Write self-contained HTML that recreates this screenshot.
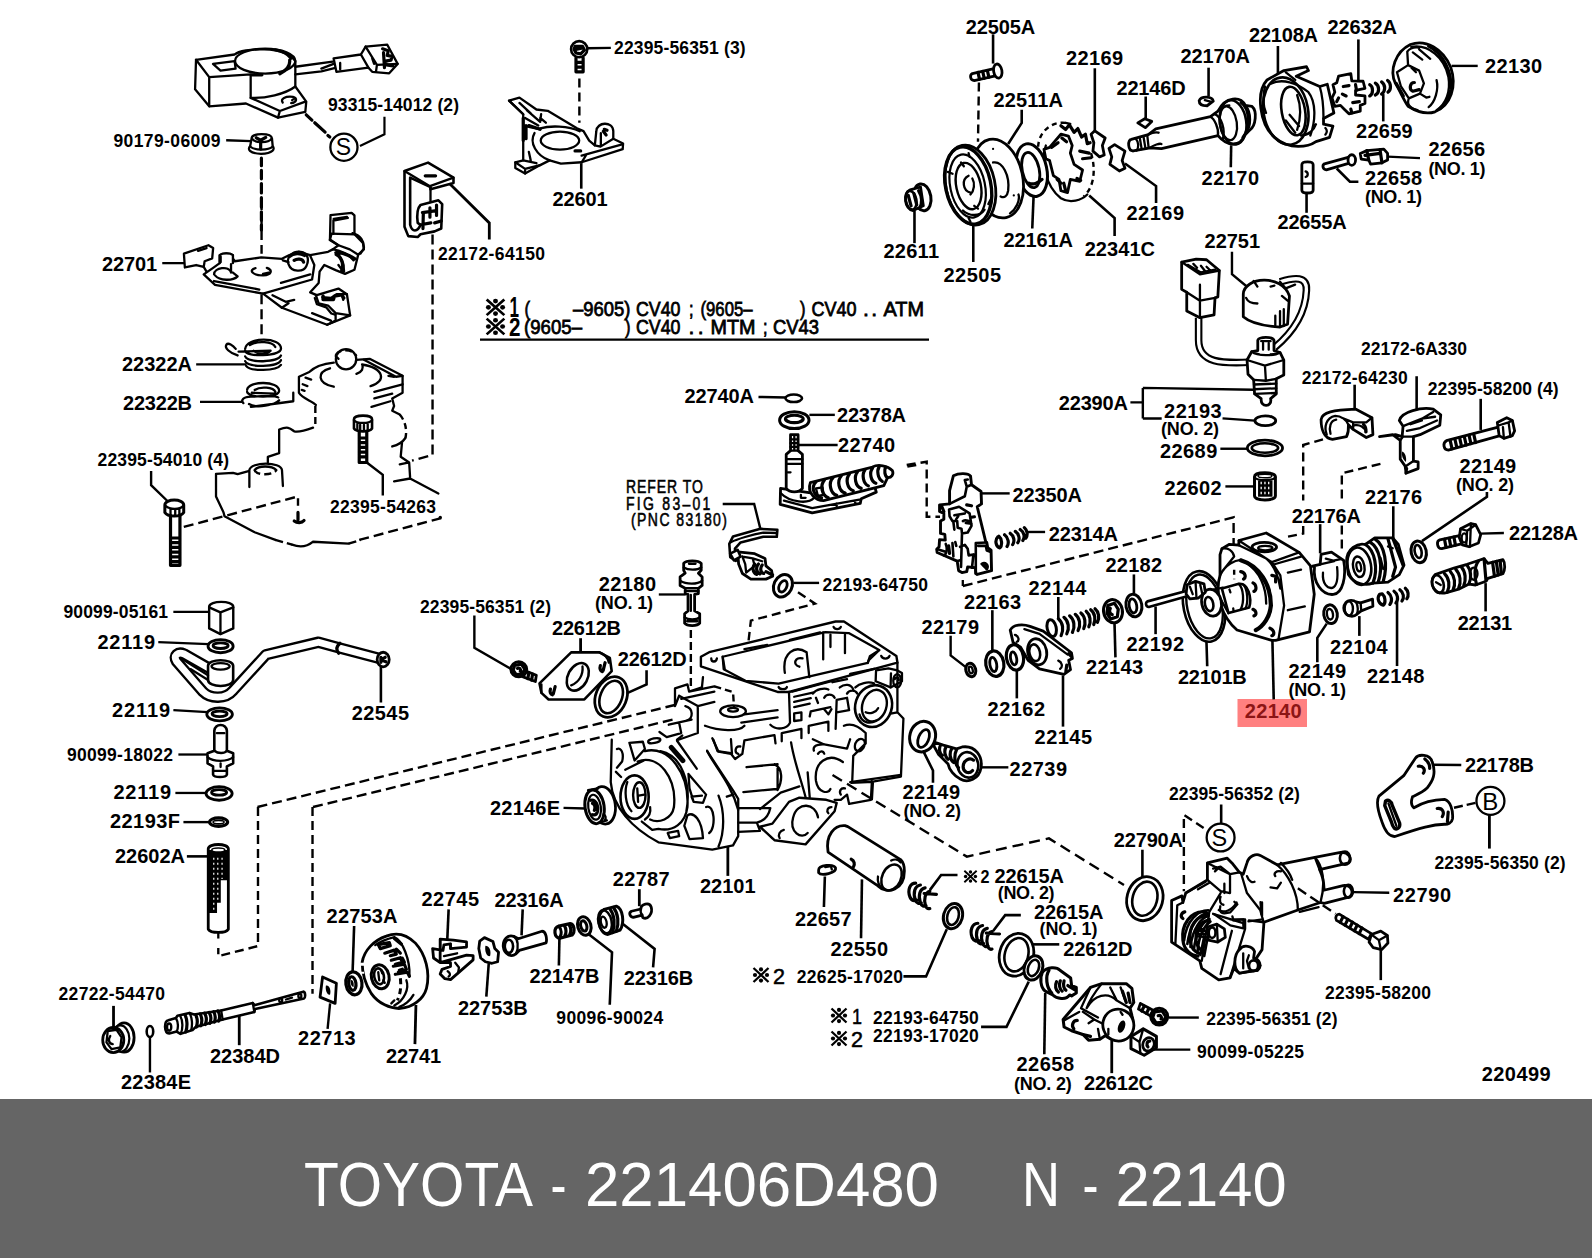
<!DOCTYPE html>
<html><head><meta charset="utf-8"><title>TOYOTA - 221406D480 N - 22140</title>
<style>
html,body{margin:0;padding:0;background:#fff;}
body{width:1592px;height:1258px;overflow:hidden;position:relative;font-family:"Liberation Sans",sans-serif;}
#dia{position:absolute;left:0;top:0;width:1592px;height:1098px;background:#fff;}
#foot{position:absolute;left:0;top:1099px;width:1592px;height:159px;background:#656565;color:#fff;}
#foot span{position:absolute;top:50px;font-size:63px;line-height:70px;white-space:pre;letter-spacing:-0.6px;}
svg text{font-family:"Liberation Sans",sans-serif;font-weight:bold;fill:#000;}
svg .t{font-family:"Liberation Sans",sans-serif;font-weight:normal;}
svg .p{fill:none;stroke:#000;stroke-width:2.3;stroke-linecap:round;stroke-linejoin:round;}
svg .w{fill:#fff;stroke:#000;stroke-width:2.3;stroke-linecap:round;stroke-linejoin:round;}
svg .k{fill:#000;stroke:none;}
svg .d{fill:none;stroke:#000;stroke-width:2.4;stroke-dasharray:9 5;}
svg .l{fill:none;stroke:#000;stroke-width:2.3;stroke-linecap:butt;stroke-linejoin:miter;}
svg .h{fill:none;stroke:#000;stroke-width:1.1;stroke-linecap:round;}
svg .b{fill:none;stroke:#000;stroke-width:3.2;stroke-linecap:round;stroke-linejoin:round;}
</style></head><body>
<div id="dia">
<svg width="1592" height="1098" viewBox="0 0 1592 1098">
<defs>
<g id="kome"><path d="M-7.5,-7L7.5,7M7.5,-7L-7.5,7" stroke="#000" stroke-width="2.3" fill="none"/><circle cx="0" cy="-5.6" r="2.1"/><circle cx="0" cy="5.6" r="2.1"/><circle cx="-6" cy="0" r="2.1"/><circle cx="6" cy="0" r="2.1"/></g>
</defs>
<!-- a01_sensor.svg -->
<g>
<!-- top sensor body -->
<path class="w" d="M196.02 59.77L234.65 54.5C242.19 47.9 285.53 45.08 295.33 61.09L295.33 86.53L306.26 101.61L305.31 111.97L277.99 117.63L245.95 103.49L209.21 106.32L195.08 89.36Z"/>
<path class="p" d="M196.02 59.77L209.21 77.11L250.67 74.28M209.21 77.11L209.21 106.32M250.67 74.28L250.67 97.84L279.87 111.03L305.31 101.61M279.87 111.03L277.99 117.63"/>
<ellipse class="p" cx="265.18" cy="61.09" rx="30.15" ry="12.44"/>
<path class="p" d="M250.67 97.84C264.8 98.78 285.53 94.07 295.33 86.53"/>
<path class="b" d="M279.87 73.72C286.47 70.52 290.24 65.8 289.67 60.15M251.61 74.85L261.97 74.85M275.16 49.79C281.76 51.11 288.35 54.5 291.18 58.27"/>
<path class="p" d="M212.98 63.92L234.65 61.09L235.59 68.63L220.52 70.52Z"/>
<path class="p" d="M282.7 102.55C279.87 98.78 285.53 95.95 293.07 96.9C297.78 97.84 296.83 102.55 291.18 103.12M292.12 100.1L295.33 97.84"/>
<!-- wire + connector -->
<path class="p" d="M295.33 66.75L332.64 61.66M295.33 74.28L321.33 71.46L336.41 67.69M321.33 68.63L333.58 63.92"/>
<path class="w" d="M333.58 58.27L360.9 54.5L365.62 46.58L387.29 44.7L397.65 63.92L389.17 73.34L372.21 71.83L368.44 67.69L336.41 71.83Z"/>
<path class="p" d="M360.9 54.5L368.44 67.69M365.62 46.58L376.92 64.86L375.98 71.83M340.18 62.98L340.18 69.57M376.92 64.86L397.65 63.92M372.21 58.27L374.1 63.92"/>
<path class="b" d="M382.58 48.84L388.23 50.73L387.29 55.44L392 56.38L391.06 60.15L385.4 61.09L386.34 64.86L392.94 65.8M383.52 52.61L384.46 67.69"/>
<!-- dashed to S -->
<path class="b" d="M306.26 114.8L311.91 120.08M314.74 122.71L325.1 132.14M327.93 135.53L329.81 137.04"/>
<circle class="w" cx="343.94" cy="147.21" r="13.57"/>
<path class="l" d="M359.96 145.89L384.46 134.21L384.46 116.68" style="stroke-width:2.2"/>
<!-- nut 90179 -->
<path class="l" d="M226.17 140.24L251.23 141.18"/>
<path class="w" d="M251.61 138.35C251.61 132.7 271.39 132.7 271.96 138.35L272.71 146.46C275.16 148.72 273.28 153.43 261.03 153.81C248.78 153.43 247.46 148.72 250.1 146.46Z"/>
<path class="p" d="M252.55 139.3C255.38 143.07 268.57 143.07 271.39 138.92M250.1 146.46C254.43 150.6 268.57 150.6 272.71 146.46"/>
<path class="b" d="M260.65 143.07L260.65 149.1M256.32 137.79L260.65 140.24L265.74 137.41"/>
<!-- dashed vertical -->
<path class="b" d="M261.41 158.14L261.41 165.68M261.41 170.39L261.41 178.87M261.41 183.58L261.41 193M261.41 197.71L261.41 207.14M261.41 211.85L261.41 220.33M261.41 225.04L261.41 229.94"/>
</g>
<text x="335.8" y="155" font-size="23" class="t" style="font-weight:normal">S</text>

<!-- a02_plate.svg -->
<g>
<!-- dashed verticals -->
<path class="d" d="M261.56 200L261.56 253.71" style="stroke-dasharray:10 5"/>
<path class="d" d="M261.56 294.22L261.56 336.62" style="stroke-dasharray:10 5"/>
<!-- 22701 leader -->
<path class="l" d="M162.25 263.13L184.3 263.13"/>
<!-- left tab -->
<path class="w" d="M183.92 253.71L208.42 245.23L213.13 248.05L212.19 258.42L204.65 261.24L203.71 266.9L196.17 265.01L184.86 267.46Z"/>
<path class="p" d="M198.05 250.88L206.53 248.05M203.71 266.9L206.53 271.61L212.19 272.55"/>
<!-- main plate -->
<path class="w" d="M203.71 274.43L215.01 284.8L263.07 293.66L281.91 307.79L327.14 324.75L350.13 315.33L346.92 294.22L338.44 288.57L316.77 295.16L310.18 292.34L318.66 282.91L319.6 271.61L324.31 265.01L335.62 270.1L345.04 273.87L354.46 269.72L358.23 254.65L363.88 249.37L362.94 242.96L354.46 234.3L354.46 215.45L351.63 212.81L330.53 215.08L329.96 239.57L338.44 245.23L332.79 249.37L328.08 251.82L310.18 255.03L298.87 251.82L289.45 255.03L281.91 258.79L261.18 257.47L234.8 261.24L232.91 258.42L232.91 255.03C230.09 252.76 222.55 252.76 219.72 255.03L219.72 263.13L213.13 267.84Z"/>
<path class="p" d="M214.07 281.03L259.3 289.51M263.07 293.66L312.06 279.52L314.32 265.01L310.18 255.59M280.97 282.91L310.18 274.43M272.49 295.16L285.68 301.76L294.16 299.87M281.91 307.79L288.5 303.27M312.06 313.07L330.9 320.6M327.14 324.75L335.62 320.6L335.62 313.07M335.62 313.07L328.08 305.53L318.66 303.27L315.83 295.16M335.62 313.07L350.13 315.33M322.42 297.05L330.9 297.99L336.56 294.22L346.92 294.22M342.21 295.16L343.15 299.87"/>
<path class="p" d="M330.53 233.54L354.46 234.3M333.73 218.84L346.92 216.96M332.79 249.37C340.33 249.94 349.75 254.65 353.52 260.3M335.62 254.65C340.33 256.53 344.1 262.19 344.1 271.61M338.44 245.23L349.75 249.37L358.23 254.65M338.44 265.01L342.21 270.1"/>
<!-- posts -->
<path class="w" d="M219.72 263.13L219.72 255.03C222.55 252.76 230.09 252.76 232.91 255.03L232.91 263.13"/>
<path class="p" d="M214.07 274.43C214.07 267.84 229.15 265.01 231.03 272.55L231.03 264.07M215.01 275.38C219.72 281.03 232.91 281.03 237.63 276.32L232.91 272.55M220.67 256.53L220.67 262.19"/>
<path class="w" d="M288.5 264.07C285.68 256.53 293.22 250.88 300.75 251.82C308.29 252.76 309.23 260.3 306.41 265.95C303.58 272.55 291.33 272.55 288.5 264.07Z"/>
<path class="b" d="M289.45 256.53C293.22 252.76 300.75 252.76 304.52 255.59M294.16 260.3C296.98 258.42 302.64 258.42 303.58 262.19"/>
<path class="p" d="M282.85 260.3L288.5 262.19"/>
<!-- center hole C -->
<path class="p" d="M255.53 268.22C247.99 270.1 252.7 275.38 263.07 275.38C272.49 275 272.49 269.72 266.83 267.84M263.07 273.87L268.72 272.55"/>
<!-- spring 22322A -->
<path class="l" d="M196.17 364.32L246.48 364.32"/>
<path class="p" d="M245.16 348.87C246.11 336.62 281.91 336.62 280.97 348.87C280.02 356.41 246.11 357.35 245.16 350.75M245.16 356.41C247.99 363 278.14 363 280.97 355.46M245.16 361.12C247.99 367.71 278.14 367.71 280.97 360.18M246.11 365.83C249.87 371.48 276.26 371.48 280.97 364.89M249.87 345.1C257.41 340.39 272.49 341.33 275.31 346.98M238.57 351.7L270.6 350.75M253.64 350.75C257.41 354.52 266.83 354.52 270.6 350.75"/>
<path class="p" d="M237.63 355.46C229.15 352.64 224.43 347.93 226.32 344.72C228.2 342.27 232.91 345.1 235.74 348.87"/>
</g>

<!-- a03_22601.svg -->
<g>
<!-- screw 22395-56351 (3) -->
<path class="l" d="M587.29 48.27L610.84 47.89"/>
<circle class="w" cx="579.18" cy="49.21" r="8.1" style="stroke-width:2.6"/>
<path class="b" d="M575.04 46.38L582.58 46.38L584.46 50.15L580.69 53.92L575.98 52.98L574.1 49.21ZM576.92 49.21L581.63 48.27"/>
<path class="b" d="M575.98 57.69L575.98 71.82L583.14 71.82L583.14 57.69M575.98 62.4L583.14 62.4M575.98 67.11L583.14 67.11"/>
<path class="d" d="M579.37 78.42L579.37 122.7" style="stroke-dasharray:9 5"/>
<!-- 22601 plate -->
<path class="w" d="M509.08 100.65L519.45 97.64L536.41 109.51L547.71 110.83L576.92 128.35L583.52 131.18L589.17 140.6L594.82 145.31L596.33 131.18C596.71 121.76 612.73 120.82 613.29 131.18L613.29 138.72L623.09 143.43L622.71 149.08L581.63 162.27L560.9 163.59L549.6 160.39L540.18 165.1L525.1 173.58L515.3 167.93L515.3 162.27L523.22 160.39L523.22 114.22Z"/>
<path class="p" d="M509.08 100.65L523.22 114.22M519.45 102.91L530.75 113.28M526.98 110.45L540.18 121.76M523.22 125.53L540.18 129.3M525.1 117.99L538.29 125.53M594.82 145.31L600.48 146.63L613.29 138.72M600.85 133.07L600.85 146.26M581.63 155.68L622.15 144.37M581.63 162.27L586.34 154.74M523.22 160.39L536.41 163.22M515.3 162.27L525.1 168.87L540.18 165.1M525.1 168.87L525.1 173.58M528.87 151.91L530.75 160.39M540.18 121.76L541.12 114.22M540.18 117.99L545.83 122.7"/>
<path class="b" d="M523.22 117.99L523.22 140.6M526.04 125.53L526.04 138.72M528.87 125.53L540.18 129.3M603.3 131.18L606.13 134.95M604.25 129.3L607.07 130.24M575.04 150.97L580.69 150.97"/>
<ellipse class="p" cx="559.96" cy="140.6" rx="19.22" ry="9.05"/>
<path class="p" d="M534.52 133.07C528.87 142.49 536.41 155.68 549.6 160.39M540.18 128.35C549.6 125.53 568.44 125.53 579.75 131.18"/>
<path class="l" d="M581.26 163.22L581.26 188.66" style="stroke-width:2.6"/>
</g>

<!-- a04_cover.svg -->
<g>
<!-- spring 22322B -->
<path class="l" d="M200 401.81L242.96 401.81"/>
<path class="p" d="M247.11 389.94C248.05 380.52 279.15 380.52 279.15 390.88C278.2 398.42 248.99 398.42 247.11 391.82M254.65 389.94C260.3 386.17 273.49 387.11 275.38 391.82M251.82 392.76L274.43 393.71M243.34 403.13C240.52 400.3 243.34 396.53 250.88 396.53C262.19 396.53 275.38 394.65 278.2 397.47M248.99 404.07C256.53 408.78 275.38 405.01 279.15 400.3M250.88 406.9L293.28 401.24L293.28 392.76"/>
<!-- pump cover -->
<path class="p" d="M333.79 362.61C324.37 363.56 314.95 366.38 309.3 372.04L298.93 376.75L298.93 392.76C301.76 398.42 313.07 401.24 315.89 405.01M313.07 427.63C305.53 430.45 297.99 432.34 294.22 431.39C290.45 428.57 288.57 425.74 279.15 429.51L279.15 453.07L267.84 456.83L267.84 462.49"/>
<path class="d" d="M315.33 405.95L315.33 425.74" style="stroke-dasharray:7 4"/>
<path class="p" d="M356.41 359.79L369.6 358.84L402.58 375.8L402.58 392.76L392.21 398.42L394.1 405.95L392.21 410.67L399.75 414.43M405.4 437.99C401.63 443.64 395.98 445.53 392.21 446.47M402.01 442.7L400.69 456.83L409.17 462.49L410.11 477.56M394.1 481.33L410.11 478.5L438.38 493.58M399.75 464.37L409.17 462.49"/>
<path class="d" d="M399.75 414.43C405.4 421.03 407.29 430.45 405.4 437.99" style="stroke-dasharray:6 4"/>
<circle class="w" cx="346.04" cy="359.22" r="10.18"/>
<path class="d" d="M335.68 355.08C339.45 348.48 352.64 348.48 356.41 356.02" style="stroke-dasharray:7 4"/>
<path class="p" d="M330.02 368.27C316.83 372.04 316.83 383.34 333.79 386.73M362.06 364.5C384.67 368.27 386.56 381.46 370.54 386.17M374.31 391.82L402.58 384.28M374.31 398.42L392.21 393.71M371.48 406.9L390.33 401.24M305.53 377.69L311.18 379.57M302.7 384.28L307.41 386.17M301.76 389.94L304.59 390.88M363.94 359.79L395.98 376.75L402.58 375.8M388.44 375.8L394.1 376.75M356.41 373.92C362.06 372.04 363.94 368.27 362.06 364.5M335.68 356.02L338.5 358.84"/>
<!-- screw -->
<path class="w" d="M353.96 419.15C353.96 414.43 372.05 414.43 372.05 419.15L372.05 428.57C369.6 432.34 356.41 432.34 353.96 428.57Z" style="stroke-width:2.6"/>
<path class="p" d="M353.96 420.09C356.41 423.86 369.6 423.86 372.05 420.09M357.35 423.86L357.35 430.08M360.18 424.8L360.18 430.83M363.94 424.8L363.94 430.83M367.71 423.86L367.71 430.08"/>
<path class="b" d="M359.23 431.39L359.23 462.49L366.77 462.49L366.77 431.39M359.23 437.99L366.77 437.99M359.23 442.7L366.77 442.7M359.23 447.41L366.77 447.41M359.23 452.12L366.77 452.12M359.23 456.83L366.77 456.83"/>
<path class="l" d="M366.77 462.49L382.79 474.74L382.79 495.46" style="stroke-width:2.4"/>
<!-- boss -->
<path class="p" d="M249.37 486.98L249.37 470.02C250.88 461.55 281.03 461.55 281.97 470.02L282.91 486.04M216.02 473.79L232.98 472.85L237.69 474.17L249.37 470.97M216.02 473.79L216.02 496.41L223.56 512.42L224.5 516.19L254.65 532.21L275.38 539.94"/>
<path class="d" d="M254.65 470.02C256.53 475.68 273.49 475.68 276.32 470.02" style="stroke-dasharray:7 4"/>
<path class="p" d="M254.65 470.02C258.42 465.31 271.61 465.31 276.32 470.02"/>
<!-- dashed lines -->
<path class="d" d="M183.79 526.93L297.99 496.41L297.99 505.83" style="stroke-dasharray:10 5"/>
<path class="b" d="M297.99 512.42L297.99 519.96M294.22 520.9C297.05 523.17 301.76 523.17 304.02 520.53"/>
<path class="d" d="M359.23 539.94L441.21 518.08" style="stroke-dasharray:10 5"/>
<circle class="k" cx="440.26" cy="517.51" r="1.7"/>
<path class="d" d="M432.54 234.47L432.54 454.95L412 460.6" style="stroke-dasharray:10 5"/>
</g>

<!-- a05_bracket_notes.svg -->
<g>
<!-- bracket 22172-64150 -->
<path class="w" d="M404.5 171.09L428.05 162.61L453.49 177.69L453.49 182.96L430.5 189.37L430.5 187.11L410.15 177.69L410.15 224.8C412.04 232.34 417.69 232.34 420.52 224.8L417.69 222.91C416.75 215.38 417.69 207.84 420.52 205.01L438.42 200.3L442.19 204.07L441.24 228.57L434.65 231.39L420.52 234.22L417.69 237.05L408.27 236.11L404.5 226.68Z" style="stroke-width:2.6"/>
<path class="p" d="M404.5 171.09L429.94 186.17L453.49 177.69M429.94 186.17L430.5 189.37M430.5 189.37L430.5 202.19"/>
<path class="b" d="M425.23 175.8L435.59 175.8M422.4 212.55L436.53 210.67M423.34 212.55L422.96 228.57M429.94 207.84L429.94 217.26M436.53 205.01L436.53 215.38M420.52 224.8L430.88 222.91M434.65 222.91L441.24 221.03"/>
<path class="l" d="M449.72 183.72L489.3 222.91L489.3 239.5" style="stroke-width:2.8"/>
</g>
<g id="notes">
<use href="#kome" transform="translate(495.5 307.3) scale(1.18 1.12)"/><use href="#kome" transform="translate(495.5 326.5) scale(1.18 1.12)"/>
<text x="509.5" y="317" font-size="29" textLength="9.5" lengthAdjust="spacingAndGlyphs">1</text>
<text x="509" y="336" font-size="26" textLength="11.5" lengthAdjust="spacingAndGlyphs">2</text>
<g class="t" font-size="21" style="font-weight:normal;stroke:#000;stroke-width:0.8">
<text class="t" x="524.5" y="315.5" textLength="5.5" lengthAdjust="spacingAndGlyphs">(</text>
<text class="t" x="573" y="315.5" textLength="57.5" lengthAdjust="spacingAndGlyphs">–9605)</text>
<text class="t" x="636" y="315.5" textLength="44.5" lengthAdjust="spacingAndGlyphs">CV40</text>
<text class="t" x="689" y="315.5" textLength="4.5" lengthAdjust="spacingAndGlyphs">;</text>
<text class="t" x="700.5" y="315.5" textLength="52" lengthAdjust="spacingAndGlyphs">(9605–</text>
<text class="t" x="800" y="315.5" textLength="5.5" lengthAdjust="spacingAndGlyphs">)</text>
<text class="t" x="811.5" y="315.5" textLength="45" lengthAdjust="spacingAndGlyphs">CV40</text>
<text class="t" x="863" y="315.5" textLength="14" lengthAdjust="spacing">. .</text>
<text class="t" x="883.5" y="315.5" textLength="40.5" lengthAdjust="spacingAndGlyphs">ATM</text>
<text class="t" x="524" y="334" textLength="58" lengthAdjust="spacingAndGlyphs">(9605–</text>
<text class="t" x="625" y="334" textLength="5.5" lengthAdjust="spacingAndGlyphs">)</text>
<text class="t" x="636" y="334" textLength="44.5" lengthAdjust="spacingAndGlyphs">CV40</text>
<text class="t" x="688.5" y="334" textLength="15" lengthAdjust="spacing">. .</text>
<text class="t" x="710.5" y="334" textLength="45" lengthAdjust="spacingAndGlyphs">MTM</text>
<text class="t" x="763" y="334" textLength="4.5" lengthAdjust="spacingAndGlyphs">;</text>
<text class="t" x="773" y="334" textLength="46" lengthAdjust="spacingAndGlyphs">CV43</text>
</g>
<path class="l" d="M480,339.7 L929,339.7"/>
</g>

<!-- a06_screw_cap.svg -->
<g>
<path class="l" d="M151.11 471.09L151.11 485.23L167.69 501.24" style="stroke-width:2.4"/>
<path class="w" d="M164.86 505.01C164.86 498.42 183.71 498.42 183.71 505.01L183.71 512.55C180.88 517.26 167.69 517.26 164.86 512.55Z" style="stroke-width:3"/>
<path class="p" d="M165.8 505.95C169.57 509.72 179.94 509.72 183.14 505.95M170.52 508.78L170.52 515M175.23 509.35L175.23 515.75M179.37 508.22L179.37 515"/>
<path class="b" d="M170.52 515.38L170.52 565.31L179.94 565.31L179.94 515.38M170.52 537.99L179.94 537.99M170.52 542.7L179.94 542.7M170.52 547.41L179.94 547.41M170.52 552.12L179.94 552.12M170.52 556.83L179.94 556.83M170.52 561.55L179.94 561.55"/>
<path class="d" d="M275.29 539.87L292.06 544.59" style="stroke-dasharray:8 4"/>
<path class="p" d="M292.06 544.59C299.6 547.41 307.14 546.47 312.79 541.76L348.59 543.64"/>
<path class="d" d="M348.59 543.64L360.84 539.87" style="stroke-dasharray:8 4"/>
<!-- cap -->
<path class="l" d="M173.34 611.86L209.15 611.86"/>
<path class="w" d="M209.15 606.77C209.15 600.18 233.27 600.18 233.27 606.77L233.27 628.44L220.45 634.1L209.15 628.44Z" style="stroke-width:2.4"/>
<path class="p" d="M209.15 607.34L220.45 612.42L233.27 607.34M220.45 612.42L220.45 634.1"/>
</g>

<!-- a07_pipe.svg -->
<g>
<!-- washer 1 -->
<path class="l" d="M158.29 642.21L208.54 644.22"/>
<ellipse class="w" cx="220.6" cy="646.23" rx="12.56" ry="6.53" style="stroke-width:2.8"/>
<ellipse class="p" cx="220.6" cy="645.73" rx="7.54" ry="2.76" style="stroke-width:2.8"/>
<!-- pipe -->
<path d="M383.42 659.55L338.69 647.74L318.59 642.21L265.83 654.77L233.17 690.45C225.63 699.25 210.55 699.25 203.01 691.71L176.63 661.56C172.86 655.28 177.89 651.51 184.17 654.02L210.55 669.1" fill="none" stroke="#000" stroke-width="11.5" stroke-linejoin="round" stroke-linecap="round"/>
<path d="M383.42 659.55L338.69 647.74L318.59 642.21L265.83 654.77L233.17 690.45C225.63 699.25 210.55 699.25 203.01 691.71L176.63 661.56C172.86 655.28 177.89 651.51 184.17 654.02L210.55 669.1" fill="none" stroke="#fff" stroke-width="6.8" stroke-linejoin="round" stroke-linecap="round"/>
<path class="b" d="M339.95 643.22C336.18 646.48 336.18 650.25 338.69 653.27"/>
<ellipse class="w" cx="383.17" cy="659.55" rx="6.03" ry="7.29" style="stroke-width:2.8"/>
<path class="b" d="M380.9 657.29L380.9 662.31M380.9 659.8L385.18 657.29M380.9 659.8L385.93 661.81"/>
<path class="w" d="M208.04 665.83C208.04 658.29 233.17 658.29 233.17 665.83L233.17 679.9C233.17 687.94 208.04 687.94 208.04 679.9Z" style="stroke-width:2.6"/>
<ellipse class="p" cx="220.6" cy="666.33" rx="9.05" ry="3.27"/>
<path class="p" d="M184.17 660.3L208.04 675.38M190.45 669.1L208.04 679.9"/>
<path class="l" d="M380.9 666.83L380.9 702.51" style="stroke-width:2.6"/>
<!-- washer 2 -->
<path class="l" d="M173.37 710.05L207.54 712.06"/>
<ellipse class="w" cx="219.6" cy="714.32" rx="12.81" ry="6.53" style="stroke-width:2.8"/>
<ellipse class="p" cx="219.6" cy="713.82" rx="7.54" ry="2.76" style="stroke-width:2.8"/>
<!-- bolt 90099-18022 -->
<path class="l" d="M178.39 754.52L208.54 754.52"/>
<path class="w" d="M214.32 750.75L214.32 730.65C215.58 723.12 225.63 723.12 226.88 730.65L226.88 750.75L233.17 753.27L233.17 763.32L226.88 766.33L226.88 774.62C225.63 777.89 214.32 777.89 213.07 774.62L213.07 766.33L207.54 763.32L207.54 753.27Z" style="stroke-width:2.6"/>
<path class="p" d="M207.54 757.03C213.07 762.06 228.14 762.06 233.17 757.03M214.32 750.75C218.09 753.77 224.37 753.77 226.88 750.75M213.07 770.85L226.88 770.85M216.83 733.17L224.37 733.17M220.6 763.32L220.6 767.09"/>
<!-- washer 3 -->
<path class="l" d="M175.38 792.96L206.53 792.96"/>
<ellipse class="w" cx="219.1" cy="793.47" rx="13.07" ry="6.78" style="stroke-width:2.8"/>
<ellipse class="p" cx="219.1" cy="792.46" rx="7.54" ry="2.76" style="stroke-width:2.8"/>
<!-- o-ring -->
<path class="l" d="M183.42 822.11L209.55 822.11" style="stroke-width:2.4"/>
<ellipse class="p" cx="218.59" cy="822.11" rx="9.05" ry="4.27" style="stroke-width:3.2"/>
<ellipse class="p" cx="218.59" cy="822.11" rx="5.53" ry="1.76" style="stroke-width:1.6"/>
<!-- 22395-56351(2) leader -->
<path class="l" d="M474.37 615.58L474.37 647.74L511.81 669.35" style="stroke-width:2.4"/>
</g>

<!-- a08_bottomleft.svg -->
<g>
<!-- 22602A filter -->
<path class="l" d="M186.88 856.38L208.74 856.38" style="stroke-width:2.6"/>
<path class="w" d="M208.24 848.84C208.24 843.07 228.34 843.07 228.34 848.84L228.34 929.25C225.83 933.52 210.75 933.52 208.24 929.25Z" style="stroke-width:2.8"/>
<path class="k" d="M208.74 850.1L227.84 850.1L227.84 880.25L220.8 880.25L220.8 902.86L217.03 902.86L217.03 912.91L208.74 912.91Z"/>
<ellipse cx="218.29" cy="850.1" rx="6.53" ry="2.01" fill="#fff" stroke="#000" stroke-width="1.5"/>
<path d="M213.77 857.64L213.77 910.4M217.79 857.64L217.79 900.35M222.06 857.64L222.06 878.99" stroke="#fff" stroke-width="1.2" stroke-dasharray="2 3" fill="none"/>
<path class="l" d="M218.29 931.76L218.29 938.54"/>
<!-- dashed -->
<path class="d" d="M257.99 806.88L257.99 946.08L218.29 956.13L218.29 948.09" style="stroke-dasharray:9 5"/>
<path class="d" d="M312.51 806.88L312.51 993.82" style="stroke-dasharray:9 5"/>
<!-- nut 22722 -->
<path class="l" d="M113.52 1005.88L113.52 1028.99" style="stroke-width:2.8"/>
<ellipse class="w" cx="124.07" cy="1037.54" rx="10.05" ry="14.57" style="stroke-width:2.8"/>
<ellipse class="w" cx="120.3" cy="1038.54" rx="9.05" ry="13.07" style="stroke-width:2.2"/>
<ellipse class="w" cx="113.27" cy="1040.05" rx="10.55" ry="12.56" style="stroke-width:2.8"/>
<path class="p" d="M107.74 1031L116.53 1029.75L121.56 1037.29L120.3 1047.34L111.51 1049.1L106.48 1042.31ZM110.25 1036.03C107.74 1039.8 108.99 1043.57 112.76 1044.07"/>
<!-- 22384E -->
<ellipse class="p" cx="149.95" cy="1031.51" rx="3.27" ry="5.53" style="stroke-width:2.6"/>
<path class="l" d="M149.95 1037.29L149.95 1072.46" style="stroke-width:2.4"/>
<!-- 22713 -->
<path class="w" d="M322.56 976.98L336.38 983.27L335.13 1003.37L320.05 997.09Z" style="stroke-width:2.8"/>
<path class="k" d="M325.83 985.78C328.84 984.52 331.36 989.55 330.1 994.57C327.59 995.83 325.08 990.8 325.83 985.78Z"/>
<path class="l" d="M330.1 1003.37L327.59 1028.99" style="stroke-width:2.4"/>
</g>

<!-- a09_gov_small.svg -->
<g>
<!-- 22745 flyweights -->
<path class="l" d="M448.63 909.37L447.31 939.15" style="stroke-width:2.6"/>
<path class="w" d="M440.15 939.15L453.34 940.09L466.53 941.97L466.53 947.06L450.52 948.57L450.52 943.86L443.92 944.8L442.98 950.45L432.61 948.57L433.56 957.99L440.15 962.7L466.53 955.16L473.13 955.73L473.13 959.87L450.52 979.66L444.86 978.72L440.15 974.01L442.04 969.3L450.52 966.47L450.52 962.7L440.15 962.7Z" style="stroke-width:2.8"/>
<path class="p" d="M440.15 939.15L440.15 950.45M450.52 948.57L450.52 943.86M455.23 962.7L458.99 967.41L458.05 973.07M447.69 971.18C450.52 973.07 450.52 975.33 448.63 976.46M443.92 956.11L457.11 953.28"/>
<!-- 22753B -->
<path class="w" d="M484.43 937.64L492.91 941.41L494.8 948.57L498.57 952.34L497.63 961.76L491.97 963.27L485.38 961.76L480.67 957.99L478.78 948.57L479.72 941.03Z" style="stroke-width:2.8"/>
<path class="k" d="M485.38 945.74C489.15 945.74 491.41 950.45 490.09 956.11C487.26 957.05 484.43 952.34 485.38 945.74Z"/>
<path class="l" d="M488.77 963.27L486.32 996.62" style="stroke-width:2.6"/>
<!-- 22316A pin -->
<path class="l" d="M522.69 909.37L521.56 935.38" style="stroke-width:2.6"/>
<path class="w" d="M518.35 938.77L541.91 931.23C546.06 931.23 547.19 939.15 546.06 942.91L519.3 950.45L515.53 954.22C511.76 957.05 504.22 955.16 503.28 946.68C502.71 939.15 507.99 934.43 513.64 936.32Z" style="stroke-width:2.8"/>
<ellipse class="p" cx="508.93" cy="946.31" rx="4.15" ry="6.6" style="stroke-width:2.6"/>
<path class="p" d="M513.64 936.32C517.79 939.15 519.3 946.68 515.9 953.84"/>
<!-- 22147B -->
<path class="w" d="M558.87 925.95L570.18 923.69C574.32 924.07 575.45 931.61 572.06 935L559.81 938.2C554.16 938.2 552.84 927.84 558.87 925.95Z" style="stroke-width:3.2"/>
<path class="b" d="M558.87 926.33C561.7 929.72 561.7 934.43 559.81 937.83M564.52 925.95C566.41 928.78 566.41 933.49 564.9 935.75M569.23 925.01C571.12 927.84 571.12 931.61 569.8 934.43"/>
<path class="l" d="M559.43 938.2L558.87 965.53" style="stroke-width:2.6"/>
<!-- 90096-90024 -->
<ellipse class="w" cx="584.31" cy="925.95" rx="6.6" ry="9.42" transform="rotate(-15 584.31 925.95)" style="stroke-width:3"/>
<ellipse class="p" cx="583.74" cy="925.95" rx="3.02" ry="5.28" transform="rotate(-15 583.74 925.95)" style="stroke-width:3"/>
<path class="l" d="M589.02 934.43L612.01 952.34L609.75 1004.72" style="stroke-width:2.6"/>
<!-- 22316B -->
<path class="w" d="M604.1 909.37L616.34 906.17C622.94 908.99 624.82 922.19 620.11 930.1L607.86 934.43C598.44 933.49 595.62 914.65 604.1 909.37Z" style="stroke-width:3"/>
<ellipse class="p" cx="605.04" cy="921.81" rx="6.6" ry="11.68" transform="rotate(-12 605.04 921.81)" style="stroke-width:2.6"/>
<ellipse class="p" cx="603.72" cy="922.19" rx="2.83" ry="5.65" transform="rotate(-12 603.72 922.19)"/>
<path class="b" d="M609.75 908.62C614.46 914.65 615.4 924.07 612.58 932.55M613.52 907.49C618.23 913.71 619.17 923.13 616.34 931.23"/>
<path class="l" d="M622.94 924.07L654.6 948.94L653.09 967.41" style="stroke-width:2.6"/>
<!-- 22787 -->
<path class="l" d="M639.33 889.21L639.33 906.17" style="stroke-width:2.8"/>
<path class="w" d="M631.42 911.26L640.84 908.99C640.84 904.28 649.32 901.46 651.21 907.11C653.09 913.71 647.44 920.3 642.73 917.47L642.16 915.03L633.3 917.47C629.53 916.53 628.59 912.76 631.42 911.26Z" style="stroke-width:2.8"/>
<path class="p" d="M640.84 908.99C640.28 911.82 640.84 913.71 642.16 915.03"/>
</g>

<!-- a10_612b.svg -->
<path class="d" d="M257.5,807 L674.8,705" style="stroke-dasharray:10 5"/>
<path class="d" d="M313,807 L686,716.4" style="stroke-dasharray:10 5"/>
<g>
<!-- screw -->
<path class="w" d="M524.07 670.24L536.32 675.33L535.38 681.55L523.13 676.83Z" style="stroke-width:2.8"/>
<path class="b" d="M528.78 672.69L527.84 678.72M532.55 674.01L531.61 680.23"/>
<ellipse class="w" cx="518.79" cy="669.3" rx="7.91" ry="7.54" style="stroke-width:3"/>
<path class="b" d="M514.65 665.53L521.24 664.02L525.01 669.3L522.19 674.01L516.16 674.57L513.14 670.24ZM517.47 668.35C519.36 667.41 521.24 669.3 520.3 671.18"/>
<!-- 22612B plate -->
<path class="l" d="M580.6 638.2L580.6 651.77" style="stroke-width:2.8"/>
<path class="w" d="M571.18 652.34L599.45 652.34L609.81 657.99L611.7 671.18L584.37 699.45L548.57 699.45L541.41 692.85L539.52 683.43Z" style="stroke-width:2.6"/>
<path class="p" d="M541.41 692.85L541.41 684.37M599.45 652.34C605.1 654.22 607.93 657.99 608.87 662.7"/>
<ellipse class="p" cx="577.78" cy="676.83" rx="9.8" ry="14.7" transform="rotate(28 577.78 676.83)" style="stroke-width:2.6"/>
<path class="p" d="M571.18 685.31C578.72 682.49 583.43 674.95 582.49 666.47"/>
<path class="b" d="M600.39 665.53C599.45 668.35 600.39 671.18 602.27 671.56M605.1 662.7L603.22 670.24M550.45 689.08C549.51 691.91 550.45 694.17 552.34 694.74M555.16 686.63L553.28 693.79"/>
<!-- 22612D o-ring -->
<ellipse class="w" cx="611.13" cy="697" rx="15.45" ry="21.11" transform="rotate(22 611.13 697)" style="stroke-width:2.8"/>
<ellipse class="p" cx="611.13" cy="697" rx="10.74" ry="16.96" transform="rotate(22 611.13 697)" style="stroke-width:2.6"/>
<path class="l" d="M646.56 670.24L646.56 684.37L627.71 692.85" style="stroke-width:2.6"/>
<!-- 22180 valve -->
<path class="l" d="M658.81 594.48L685.57 594.48"/>
<path class="w" d="M683.68 563.39C686.13 560 698.38 560 701.21 563.39L701.21 570.36L698.38 573.19L702.15 576.96L702.15 585.44L698.38 588.27L698.38 593.54L694.61 594.3L694.61 610.88L699.7 613.71L699.7 623.13C697.44 626.33 687.07 626.33 684.62 623.13L684.62 613.71L688.01 610.88L688.01 594.3L685.19 593.54L685.19 588.27L680.1 585.44L680.1 576.96L685.19 573.19L683.68 570.36Z" style="stroke-width:2.8"/>
<path class="p" d="M683.68 567.54C688.01 570.36 697.44 570.36 701.21 567.54M680.1 580.73C686.13 584.5 697.44 584.5 702.15 580.73M685.19 588.27L698.38 588.27M685.19 591.09L698.38 591.09M684.62 617.47C688.01 619.92 696.49 619.92 699.7 617.47M687.07 621.24L697.44 621.24M688.96 563.77L695.55 563.77M690.84 594.86L690.84 610.88"/>
<path class="d" d="M690.84 630.1L690.84 690.02" style="stroke-dasharray:8 4"/>
</g>

<!-- a11_22740.svg -->
<g class="t" font-size="17.5" style="font-weight:normal;stroke:#000;stroke-width:0.55">
<text class="t" transform="translate(626,493) scale(0.8,1)" textLength="96" lengthAdjust="spacing">REFER TO</text>
<text class="t" transform="translate(626,509.5) scale(0.8,1)" textLength="105.5" lengthAdjust="spacing">FIG 83–01</text>
<text class="t" transform="translate(631,525.5) scale(0.8,1)" textLength="120" lengthAdjust="spacing">(PNC 83180)</text>
</g>
<g>
<path class="l" d="M758.5 396.96L785.83 397.53" style="stroke-width:2.4"/>
<ellipse class="p" cx="793.74" cy="398.28" rx="8.29" ry="3.77" style="stroke-width:2.6"/>
<path class="l" d="M809.38 414.86L834.82 414.86" style="stroke-width:2.4"/>
<ellipse class="w" cx="794.31" cy="420.14" rx="14.7" ry="8.48" style="stroke-width:3"/>
<ellipse class="p" cx="794.31" cy="419.01" rx="9.05" ry="3.77" style="stroke-width:2.8"/>
<path class="p" d="M786.77 419.95C789.6 422.96 799.02 422.96 801.85 419.95"/>
<path class="l" d="M798.08 445.01L837.65 445.01" style="stroke-width:2.4"/>
<!-- 22740 -->
<path class="w" d="M780.55 488.35L780.18 504.37L812.21 512.85L860.26 503.43L861.21 498.72L876.28 492.12L874.4 485.53L812.21 493.07Z" style="stroke-width:2.8"/>
<path class="p" d="M780.55 493.07C789.6 502.49 808.44 504.37 814.1 497.78M783.94 500.6L812.21 508.14L859.32 499.66M800.9 494.95L800.9 497.78L805.62 497.78M836.71 503.43L836.71 506.26M854.61 500.6L855.55 503.43"/>
<path class="w" d="M790.54 434.65L798.08 434.65L798.08 450.67L802.41 454.43L802.41 488.35C799.02 493.07 789.6 493.07 786.21 488.35L786.21 454.43L790.54 450.67Z" style="stroke-width:2.8"/>
<path class="p" d="M790.54 439.36L798.08 439.36M790.54 443.13L798.08 443.13M790.54 446.9L798.08 446.9M790.54 450.67L798.08 450.67M786.21 459.15L802.41 459.15M786.21 463.86L802.41 463.86M787.71 472.34L790.54 472.34M794.31 435.59L794.31 449.72"/>
<!-- spring -->
<path class="w" d="M810.33 482.7L872.51 467.06C878.17 463.86 887.59 465.74 892.3 470.45C894.18 474.22 891.36 477.99 887.59 477.61L883.82 485.53L823.52 500.6C815.98 500.6 806.56 493.07 810.33 482.7Z" style="stroke-width:2.8"/>
<path class="b" d="M815.98 481.76C810.33 487.41 814.1 496.83 821.63 497.78M824.46 479.87C819.75 485.53 821.63 494.95 828.23 497.78M832.94 477.99C828.23 482.7 830.11 493.07 836.71 495.33M841.42 475.73C836.71 480.82 838.59 491.18 845.19 493.07M849.52 473.84C845.19 478.93 847.07 488.92 853.29 490.8M857.44 471.96C853.67 476.48 855.18 486.47 861.21 488.35M864.97 470.08C861.58 474.22 863.09 483.64 868.37 485.9M872.51 468.19C869.12 472.34 870.63 481.38 875.9 483.27M879.11 467.06C876.66 470.45 877.79 478.93 882.31 481.38M885.7 467.06C883.82 470.08 884.76 476.11 887.59 477.61"/>
<path class="p" d="M815.98 488.35L822.58 487.41L823.52 494.95L817.86 495.89Z"/>
<!-- sensor wire -->
<path class="l" d="M722.7 503.99L754.17 503.99L760.39 528.87" style="stroke-width:2.4"/>
<path class="w" d="M777.35 529.81L760.39 528.87L733.07 536.41L729.3 543.94L730.24 557.14L735.89 560.9L734.95 548.66L740.6 542.44L763.22 536.78L776.78 536.78Z" style="stroke-width:2.6"/>
<path class="p" d="M731.18 542.06C736.83 539.23 751.91 534.52 763.22 532.64L776.78 533.01"/>
<path class="d" d="M907.37 466.68L920 464.23" style="stroke-dasharray:9 5"/>
</g>

<!-- a12_sensor.svg -->
<g>
<path class="w" d="M737.69 551.82L754.65 553.71L765.01 558.42L765.95 565.95L771.61 570.67L772.55 576.32L765.95 579.15L750.88 579.15L742.4 573.49L738.63 564.07Z" style="stroke-width:2.8"/>
<path class="w" d="M730.15 553.71L737.69 549.94L740.52 556.53L733.92 560.3Z" style="stroke-width:2.6"/>
<path class="p" d="M742.4 556.53L752.76 558.42L754.65 565.95L746.17 572.55M752.76 558.42L762.19 561.24M746.17 572.55L745.23 564.07L742.4 556.53"/>
<path class="b" d="M754.65 564.07C751.82 566.9 752.76 572.55 756.53 574.43M758.42 564.07C755.59 566.9 756.16 572.55 759.92 573.87M762.19 565.01C759.92 567.84 760.3 572.55 763.69 573.49M765.95 571.61L772.55 575"/>
<ellipse class="w" cx="782.91" cy="585.74" rx="9.05" ry="11.68" transform="rotate(25 782.91 585.74)" style="stroke-width:3"/>
<ellipse class="p" cx="782.91" cy="586.31" rx="3.77" ry="6.03" transform="rotate(25 782.91 586.31)" style="stroke-width:2.8"/>
<path class="l" d="M793.28 582.91L819.1 582.91" style="stroke-width:2.4"/>
<path class="d" d="M797.99 592.34L814.95 603.64L750.88 620.6L748.62 640.39" style="stroke-dasharray:9 5"/>
<!-- 22179 -->
<path class="l" d="M950.63 635.68L950.63 655.46L966.08 667.34" style="stroke-width:2.4"/>
<ellipse class="p" cx="970.79" cy="669.97" rx="4.9" ry="6.78" transform="rotate(-15 970.79 669.97)" style="stroke-width:3"/>
<ellipse class="p" cx="970.79" cy="669.97" rx="1.88" ry="3.39" transform="rotate(-15 970.79 669.97)"/>
</g>

<!-- a13_22146e.svg -->
<g>
<path class="l" d="M563.54 807.84L585.78 808.47" style="stroke-width:2.4"/>
<ellipse class="w" cx="603.74" cy="805.33" rx="11.56" ry="18.84" transform="rotate(-8 603.74 805.33)" style="stroke-width:2.8"/>
<ellipse class="w" cx="594.57" cy="806.83" rx="9.55" ry="16.96" transform="rotate(-8 594.57 806.83)" style="stroke-width:3"/>
<ellipse class="p" cx="594.57" cy="807.21" rx="6.28" ry="12.56" transform="rotate(-8 594.57 807.21)" style="stroke-width:2.2"/>
<path class="b" d="M590.55 800.3C595.58 799.05 598.72 805.33 597.46 811.61C596.83 814.12 594.95 815.38 592.44 814.75M592.44 803.44C594.95 804.07 595.58 807.84 594.32 810.35"/>
<path class="p" d="M588.04 790.25L598.09 788.37M598.09 822.91L606.88 820.4M603.74 814.12C605.63 815.38 606.26 817.89 605 819.77"/>
</g>

<!-- a14_shaft.svg -->
<g>
<path class="w" d="M168.39 1020.3L175.93 1018.04L177.44 1015.78L189.5 1013.07L194.02 1014.57L221.16 1010.5L252.81 1002.96L254.32 1005.23L303.32 991.66C305.58 991.96 305.58 997.69 304.07 998.44L255.08 1009L254.32 1012.01L222.66 1019.55L195.53 1027.09L192.51 1030.1L180.45 1033.87L176.68 1031.61L169.15 1033.57C163.87 1033.12 163.87 1021.06 168.39 1020.3Z" style="stroke-width:2.6"/>
<path class="p" d="M221.16 1010.5L222.66 1019.55M252.81 1002.96L254.32 1012.01M175.93 1018.04C178.19 1021.81 178.64 1027.84 176.68 1031.61M180.45 1016.53C182.71 1020.3 183.17 1028.59 180.75 1033.57M189.5 1013.07C192.21 1017.29 192.51 1024.82 191.31 1029.65"/>
<path class="b" d="M184.98 1015.03C187.24 1018.79 187.69 1026.33 185.73 1032.06M195.53 1014.57C197.34 1018.04 197.64 1023.32 196.28 1027.09M200.05 1013.82C201.86 1016.99 202.16 1022.11 200.8 1025.73M204.57 1013.07C206.38 1016.08 206.68 1021.06 205.33 1024.52M209.1 1012.31C210.9 1015.33 211.21 1020 209.85 1023.32M213.62 1011.71C215.43 1014.27 215.73 1019.1 214.37 1022.11M217.84 1010.95C219.65 1013.67 219.95 1018.04 218.59 1021.06"/>
<ellipse class="p" cx="169.15" cy="1027.09" rx="2.11" ry="3.62" style="stroke-width:2.4"/>
<ellipse class="p" cx="280.7" cy="1000.25" rx="1.51" ry="1.81"/><ellipse class="p" cx="299.85" cy="995.88" rx="1.51" ry="1.96"/>
<path class="p" d="M285.98 999.5L292.01 997.69"/>
<path class="l" d="M239.25 1015.78L239.25 1045.18" style="stroke-width:2.8"/>
</g>

<!-- a15_22741.svg -->
<g>
<!-- 22753A -->
<path class="l" d="M354.12 926.03L352.61 971.76" style="stroke-width:2.6"/>
<ellipse class="w" cx="353.92" cy="983.32" rx="8.04" ry="11.56" transform="rotate(-8 353.92 983.32)" style="stroke-width:3.2"/>
<ellipse class="p" cx="352.31" cy="983.52" rx="3.62" ry="6.83" transform="rotate(-8 352.31 983.52)" style="stroke-width:3.2"/>
<path class="k" d="M350.6 980.3C352.61 979.3 354.12 982.31 353.62 986.83C352.11 987.34 350.1 984.32 350.6 980.3Z"/>
<!-- 22741 -->
<path class="w" d="M362.16 962.21C364.17 950.15 374.22 940.1 386.28 936.08C396.33 932.06 406.38 934.07 415.43 943.12C425.48 954.17 430.5 972.26 426.48 988.34C423.47 999.4 412.41 1007.44 400.35 1008.44C390.3 1008.95 378.24 1003.42 371.21 993.37C366.18 985.33 362.16 974.27 362.16 962.21Z" style="stroke-width:2.8"/>
<path d="M362.16 962.71L362.16 973.77" stroke="#fff" stroke-width="4" fill="none" stroke-dasharray="3 6"/>
<path class="p" d="M375.23 945.13C382.26 940.1 390.3 938.09 394.32 937.09M394.32 937.09C402.36 940.1 410.4 960.2 409.4 976.28M406.38 980.3C409.4 988.34 404.37 1000.4 394.32 1005.43M413.42 994.87C410.4 1000.4 404.37 1005.43 399.35 1006.94M391.31 1003.42L394.32 1000.4"/>
<path class="d" d="M400.35 978.29C401.36 986.33 400.35 994.37 397.34 1000.4" style="stroke-dasharray:6 4;stroke-width:3"/>
<path class="b" d="M378.24 944.62L389.3 942.61L390.3 945.63L380.25 948.64ZM384.77 953.17L394.32 950.15L396.33 954.17L390.3 955.68M391.31 960.2L400.35 957.69L402.36 962.21L395.33 964.22M393.32 966.23L404.37 964.22L406.38 969.25L398.34 972.26M395.33 974.27L407.39 972.26L409.4 976.28M394.32 938.59L401.36 944.12M396.33 949.15L400.35 953.17M402.36 958.19L404.37 962.21M399.35 970.25L402.36 969.25"/>
<ellipse class="p" cx="380.25" cy="976.78" rx="8.84" ry="12.06" transform="rotate(-12 380.25 976.78)" style="stroke-width:3"/>
<ellipse class="p" cx="379.05" cy="976.28" rx="4.82" ry="8.04" transform="rotate(-12 379.05 976.28)" style="stroke-width:2.6"/>
<path class="p" d="M378.24 972.26L379.25 980.3M381.26 970.25L382.26 973.27M383.27 980.3L384.77 982.81"/>
<path class="l" d="M415.93 1004.93L414.93 1044.12" style="stroke-width:2.8"/>
</g>

<!-- a16_plate_detail.svg -->
<g>
<path class="b" d="M335.98 252.74C342.18 258.73 344.25 264.93 341.67 271.13M337.53 252.02C343.73 253.57 349.93 255.63 354.58 258.73M323.07 295.93L323.07 299.55L333.4 299.55L334.43 296.14L341.67 294.9L343.73 298" style="stroke-width:3.4"/>
<path class="p" d="M352.51 233.11C360.26 234.97 364.4 241.17 363.88 248.4L360.47 253.57M331.33 234.45L329.78 240.13L337.53 244.78M333.4 233.93L333.4 220.5L347.86 217.92M314.8 298L316.87 304.2L326.17 307.3L331.33 313.5L334.43 314.53"/>
</g>

<!-- b01_pump_upper.svg -->
<g>
<!-- body silhouette white fill to hide dashed lines behind -->
<path d="M700.9 656.75L835.63 621.51L843.93 621.51L896.37 655.92L897.41 712.3L903.42 718.52L900.93 776.56L872.95 781.74L871.91 799.36L836.67 805.58L805.58 844.96L774.48 840.82L759.97 827.34L738.21 832.52L733.03 846L712.3 849.52L658.4 841.85L610.73 782.78L611.77 739.66L674.99 722.66L674.99 688.46L689.08 691.57L700.9 687.42Z" fill="#fff" stroke="none"/>
<!-- top flange -->
<path class="w" d="M700.9 656.75L709.19 652.19L835.63 621.51L843.93 621.51L896.37 655.92L897.41 662.55L788.99 691.98L777.59 691.98L700.9 666.28Z" style="stroke-width:2.4"/>
<path class="p" d="M722.66 656.75L825.27 632.08L848.69 633.12L879.16 650.11L868.8 660.06L867.76 662.96L778.63 683.69L745.46 680.79L723.7 669.18Z"/>
<path class="p" d="M784.85 672.91C781.74 652.19 795.21 644.93 806.61 652.19L809.31 677.06M802.47 658.4C795.21 656.33 792.1 664.62 799.36 666.7M823.2 632.49L823.2 659.44M830.45 634.57L830.45 647M844.96 634.57L844.96 653.22M790.03 639.75L820.09 632.49M744.43 649.08L767.23 644.93M711.26 658.4C711.26 662.55 716.44 662.55 716.86 658.4M833.56 626.9C834.6 629.8 839.78 629.8 840.82 626.9M881.24 655.92C882.27 659.44 888.49 659.44 889.53 655.92M778.63 687.01C779.67 689.91 785.89 689.91 786.92 687.01M722.66 656.75L724.74 669.18M867.76 662.96L869.84 656.33L879.16 650.11"/>
<!-- under flange right -->
<path class="p" d="M788.99 691.98L790.03 722.66C786.92 728.88 776.56 730.95 770.34 724.74M792.1 691.57L831.49 681.21M794.18 696.75L812.83 692.61M794.18 701.93L810.76 698.2M794.18 707.12L809.72 703.59M794.18 713.34L801.43 712.3L801.43 720.18L794.18 721ZM832.52 682.24L847.03 679.13M850.14 673.95L873.98 668.77"/>
<!-- right boss -->
<path class="w" d="M876.05 670.43L875.64 681.21L890.56 687.42L901.97 681.21L901.97 672.91L897.41 670.43L888.49 668.35Z"/>
<ellipse class="p" cx="897.2" cy="680.79" rx="3.94" ry="6.63"/>
<path class="p" d="M890.56 687.42L890.98 673.33M894.71 679.13C895.75 677.06 898.86 677.06 898.86 680.17"/>
<!-- right body -->
<path class="p" d="M897.41 662.55L897.41 712.3L903.42 718.52L900.93 776.56L872.95 781.74L871.91 799.36M851.18 782.78L872.95 781.74M886.42 714.37L897.41 712.3"/>
<!-- large port -->
<ellipse class="w" cx="873.57" cy="706.08" rx="18.24" ry="21.14" transform="rotate(18 873.57 706.08)" style="stroke-width:2.6"/>
<ellipse class="p" cx="874.4" cy="705.67" rx="12.02" ry="16.17" transform="rotate(18 874.4 705.67)" style="stroke-width:2.4"/>
<path class="p" d="M859.47 714.37C861.54 722.66 869.84 724.74 876.05 720.59M865.69 712.3C869.84 714.37 876.05 712.3 878.13 708.15M855.33 687.42C859.47 683.28 867.76 681.21 873.98 683.28"/>
<!-- gubbins between -->
<path class="p" d="M812.83 693.64C815.94 689.5 824.23 687.42 828.38 689.5M824.23 697.79C826.31 693.64 832.52 693.64 834.6 697.79M815.94 697.79L818.01 702.97M839.78 687.42C844.96 683.28 851.18 684.32 853.25 689.5M847.03 693.64C849.11 689.5 855.33 689.5 857.4 693.64M824.23 709.19L828.38 714.37L831.49 709.19M835.63 728.88L836.67 699.86L847.03 697.79L849.11 710.23L836.67 712.3M809.72 716.44L810.76 711.26L830.45 707.12M808.69 733.03L808.69 725.77L828.38 721.63L828.38 730.95M781.74 741.32L781.74 733.03L801.43 728.88L801.43 738.21M843.93 725.77C851.18 722.66 859.47 726.81 865.69 733.03L865.69 743.39L853.25 755.83L852.22 781.74M855.33 743.39C859.47 735.1 867.76 739.25 863.62 747.54C859.47 753.76 853.25 751.68 855.33 743.39"/>
<!-- left block -->
<path class="w" d="M674.99 688.46L687.42 684.32L689.08 691.57L714.37 686.39L733.03 691.98L735.1 706.08L697.79 714.37L697.79 733.03L677.06 740.28L659.44 733.03L674.99 722.66Z" style="stroke:none"/>
<path class="p" d="M674.99 688.46L687.42 684.32L689.08 691.57L714.37 686.39M674.99 688.46L674.99 706.08M679.13 695.72L697.79 706.08L697.79 733.03L677.06 740.28M674.99 706.08L679.13 695.72M689.08 691.57L701.93 687.42L702.97 677.06M685.35 706.08C693.64 708.15 693.64 718.52 686.39 720.59M659.44 731.99L666.7 737.17L681.21 733.03L679.13 722.66M668.77 724.74L691.57 719.55M681.21 698.83L714.37 691.57M697.79 706.08L714.37 701.93"/>
<path class="d" d="M714.37 686.39L733.03 691.98L734.06 708.15" style="stroke-dasharray:7 4"/>
<!-- bolt boss -->
<ellipse class="p" cx="733.03" cy="711.26" rx="12.85" ry="5.8"/>
<ellipse class="p" cx="733.03" cy="709.81" rx="4.97" ry="1.87"/>
<path class="p" d="M744.43 714.37L777.59 710.23M741.32 722.66L777.59 717.48M705.04 725.77C718.52 730.95 739.25 731.99 744.43 725.77M712.3 738.21L718.52 751.68L730.95 753.76L735.1 758.94L742.36 753.76L744.43 740.28L774.48 735.1L775.52 743.39M730.95 739.25L731.99 753.76M740.28 746.5C735.1 745.46 734.06 752.72 738.21 753.76M707.12 750.65C714.37 766.19 730.95 782.78 738.21 809.93M791.07 742.36C794.18 762.05 801.43 780.7 805.58 797.29M812.83 739.25L824.23 744.43L847.03 748.57L850.14 739.25M813.87 750.65C811.8 743.39 824.23 744.43 824.23 744.43M842.89 762.05C828.38 751.68 813.87 762.05 815.94 780.7C818.01 793.14 828.38 794.18 830.45 788.99M746.5 767.23L777.59 764.12M774.48 764.12C782.78 768.27 782.78 780.7 777.59 790.03M743.39 792.1L776.56 788.99M777.59 790.03L777.59 766.19M818.01 753.76C820.09 750.65 823.2 750.65 824.23 753.76M807.65 772.41L809.72 797.29"/>
</g>

<!-- b02_pump_lower.svg -->
<g>
<!-- drive flange -->
<path class="p" d="M611.77 739.69L610.73 782.19C612.8 807.06 631.46 827.79 658.4 842.3L712.3 849.55L733.03 845.41L738.21 836.08L738.21 798.77L733.03 790.48L707.12 751.09M718.52 795.66C724.74 811.21 724.74 831.93 718.52 846.44M726.81 796.7L733.03 794.62M713.34 739.69L717.48 751.09L730.95 753.17"/>
<!-- hub -->
<path class="p" d="M644.93 751.09C668.77 744.87 689.5 773.89 687.42 807.06C685.35 823.64 672.91 831.93 658.4 828.83M660.48 751.09C681.21 755.24 691.57 782.19 686.39 811.21M637.68 761.46C658.4 753.17 677.06 778.04 673.95 807.06C671.88 819.5 658.4 823.64 650.11 819.5M625.24 769.75L643.89 760.42M641.82 821.57L652.19 829.86L658.4 828.83"/>
<ellipse class="w" cx="634.57" cy="797.11" rx="14.1" ry="21.77" style="stroke-width:2.6"/>
<ellipse class="p" cx="639.33" cy="795.04" rx="6.22" ry="12.85" style="stroke-width:2.4"/>
<path class="p" d="M637.26 788.4L638.09 801.88M638.71 795.66L644.31 794.62M627.31 782.19C624.2 790.48 625.24 804.99 631.46 811.21M650.11 807.06C651.15 813.28 648.04 817.42 644.93 819.5"/>
<!-- windows -->
<path class="p" d="M629.38 742.8L642.86 741.77L644.93 749.02L634.57 760.42ZM616.95 749.02C621.09 746.95 624.2 753.17 622.13 761.46L616.95 767.68M615.91 771.82L621.09 777M688.46 773.89L706.08 794.62L702.97 802.91L693.64 801.88L689.5 788.4ZM693.64 801.88L691.57 796.7L701.93 795.66M706.08 807.06C714.37 802.91 716.44 827.79 709.19 832.97M687.42 815.35C693.64 811.21 701.93 819.5 702.97 838.15L689.5 839.19L684.32 825.72ZM667.73 832.97L678.1 830.9L679.13 836.08L669.81 838.15ZM677.06 739.69L682.24 735.55M677.06 740.73L696.75 768.71"/>
<ellipse class="p" cx="654.26" cy="740.73" rx="6.22" ry="2.28" transform="rotate(-12 654.26 740.73)"/>
<path d="M671.26 747.36L682.86 760.63" stroke="#000" stroke-width="5" stroke-linecap="round" fill="none"/>
<!-- between -->
<path class="p" d="M738.21 808.1L770.34 808.1C768.27 817.42 762.05 821.57 756.87 822.61L738.21 822.61M738.21 831.93L759.97 830.9L756.87 822.61M759.97 809.13L780.7 792.55L799.36 786.33M762.05 826.75L772.41 838.15"/>
<!-- lower oval flange -->
<path class="w" d="M759.97 826.75L774.48 840.23L805.58 844.37L834.6 811.21L836.67 802.91L826.31 799.81L799.36 797.73L788.99 801.88L772.41 823.64Z" style="stroke-width:2.4"/>
<path class="p" d="M818.01 817.42C815.94 802.91 797.29 800.84 793.14 817.42C788.99 831.93 801.43 840.23 807.65 832.97M783.81 829.86C779.67 830.9 777.59 835.04 779.67 838.15M831.49 807.06C827.34 807.06 826.31 811.21 828.38 813.28"/>
<!-- right lower -->
<path class="p" d="M850.14 782.19L900.93 774.93M871.91 781.15L870.87 799.81L849.11 803.95L847.03 794.62L840.82 799.81L834.6 799.81M844.96 788.4C840.82 787.37 838.74 791.51 840.82 794.62"/>
<path class="d" d="M832.52 774.93L869.84 797.73L966.85 856.6L1048.93 838.36L1123.97 885" style="stroke-dasharray:11 6"/>
<!-- 22101 leader -->
<path class="l" d="M727.85 846.86L727.85 875.88" style="stroke-width:2.8"/>
</g>

<!-- c01_pulley.svg -->
<g>
<!-- 22505A screw -->
<path class="l" d="M993.07 34.35L993.07 63.56" style="stroke-width:2.6"/>
<path class="w" d="M972.34 73.54L994.01 68.64L995.33 75.8L974.22 80.52C970.08 80.52 969.51 74.86 972.34 73.54Z" style="stroke-width:2.8"/>
<path class="b" d="M977.99 72.41L979.5 79.2M982.7 71.47L984.21 78.25M987.41 70.53L988.92 77.31"/>
<ellipse class="w" cx="997.78" cy="71.09" rx="4.15" ry="7.16" transform="rotate(-10 997.78 71.09)" style="stroke-width:2.8"/>
<path class="d" d="M978.93 82.4L977.99 141.76" style="stroke-dasharray:9 5"/>
<!-- 22341C cam -->
<path class="d" d="M1065.62 122.91C1049.6 121.03 1036.41 134.22 1038.29 151.18" style="stroke-dasharray:5 4"/>
<path class="d" d="M1091.06 153.07C1096.71 171.91 1092.94 188.87 1083.52 196.41" style="stroke-dasharray:5 4"/>
<path class="p" d="M1045.83 145.53C1040.18 160.6 1045.83 186.98 1060.9 198.29C1070.33 203.94 1081.63 200.18 1087.29 194.52M1065.62 122.91L1070.33 123.86"/>
<path class="b" d="M1060.9 125.74L1065.62 129.51L1069.38 124.8L1074.1 132.34L1077.86 128.57L1081.63 137.05L1085.4 134.22L1087.29 143.64L1090.11 142.7M1079.75 151.18L1089.17 153.07M1082.58 158.72L1091.06 157.78"/>
<path class="w" d="M1043.94 149.3L1049.6 147.41L1060.9 134.22L1068.44 136.11L1072.21 145.53L1070.33 153.07L1074.1 164.37L1082.58 170.02L1079.75 181.33L1070.33 179.45L1067.5 192.64L1060.9 190.75L1059.02 179.45L1053.37 175.68L1049.6 160.6L1045.83 158.72Z" style="stroke-width:2.8"/>
<path class="b" d="M1051.48 147.41L1058.08 142.7M1061.85 137.99L1066.56 141.76M1076.92 178.5L1080.69 180.39M1063.73 183.22L1065.62 190.75M1057.14 179.45L1060.9 183.22"/>
<path class="l" d="M1089.17 195.46L1114.61 218.08L1114.61 235.98" style="stroke-width:2.6"/>
<!-- 22169 shims -->
<path class="l" d="M1094.82 68.27L1094.82 130.83" style="stroke-width:2.6"/>
<path class="w" d="M1094.82 130.83L1105.19 137.99L1102.36 145.53L1104.25 154.95L1099.53 156.83L1092.94 151.18L1093.88 142.7L1091.06 134.22Z" style="stroke-width:2.8"/>
<path class="w" d="M1114.61 144.59L1124.97 151.18L1122.15 160.6L1124.97 168.14L1119.32 170.97L1109.9 164.37L1111.78 156.83L1108.96 148.35Z" style="stroke-width:2.8"/>
<path class="l" d="M1124.97 163.43L1156.07 186.04L1156.07 203" style="stroke-width:2.6"/>
<!-- 22161A ring -->
<ellipse class="w" cx="1031.7" cy="170.02" rx="15.08" ry="26.76" transform="rotate(-12 1031.7 170.02)" style="stroke-width:3"/>
<ellipse class="p" cx="1030.75" cy="170.02" rx="8.48" ry="17.9" transform="rotate(-12 1030.75 170.02)" style="stroke-width:2.8"/>
<path class="b" d="M1028.87 183.22C1032.64 185.1 1038.29 183.22 1042.06 179.45"/>
<path class="l" d="M1033.58 196.41L1032.26 228.44" style="stroke-width:2.6"/>
<!-- 22511A disc -->
<path class="l" d="M1021.71 109.72L1021.71 122.91L1008.14 144.02" style="stroke-width:2.6"/>
<ellipse class="w" cx="997.78" cy="178.5" rx="24.87" ry="39.95" transform="rotate(-12 997.78 178.5)" style="stroke-width:2.8"/>
<path class="p" d="M993.07 162.49C1002.49 160.6 1010.02 175.68 1008.14 190.75C1007.2 196.41 1004.37 198.29 1000.6 196.41"/>
<circle class="k" cx="993.07" cy="148.92" r="1.13"/><circle class="k" cx="1013.79" cy="195.46" r="1.13"/>
<path class="p" d="M1018.5 194.52C1020.39 200.18 1015.68 209.6 1010.02 213.37"/>
<!-- 22505 pulley -->
<ellipse class="w" cx="970.45" cy="185.1" rx="24.5" ry="40.52" transform="rotate(-12 970.45 185.1)" style="stroke-width:2.8"/>
<ellipse class="p" cx="968.19" cy="185.48" rx="22.61" ry="39.2" transform="rotate(-12 968.19 185.48)" style="stroke-width:3.4"/>
<ellipse class="p" cx="967.63" cy="186.04" rx="17.34" ry="32.04" transform="rotate(-12 967.63 186.04)" style="stroke-width:2.2"/>
<ellipse class="p" cx="968.57" cy="186.04" rx="12.25" ry="23.56" transform="rotate(-12 968.57 186.04)" style="stroke-width:2.4"/>
<path class="p" d="M968.57 175.68C961.03 179.45 962.91 190.75 970.45 192.64M972.34 178.5C975.16 183.22 974.22 190.75 970.45 194.52M962.91 210.54C968.57 216.19 979.87 217.14 984.59 209.6M961.03 162.49L963.86 166.26M974.22 205.83L977.99 208.66M947.84 171.91L952.55 173.79M968.57 153.07L969.51 156.83M988.35 203.94L990.24 200.18M968.57 218.08L970.45 221.85"/>
<path class="l" d="M973.28 225.62L973.28 261.98" style="stroke-width:2.6"/>
<!-- 22611 nut -->
<ellipse class="w" cx="922.4" cy="197.35" rx="8.48" ry="13.57" transform="rotate(-10 922.4 197.35)" style="stroke-width:3"/>
<path class="w" d="M910.15 189.81L920.52 186.98L923.34 205.83L912.98 210.54C904.5 209.6 902.61 192.64 910.15 189.81Z" style="stroke-width:2.8"/>
<ellipse class="p" cx="911.09" cy="200.18" rx="5.28" ry="9.42" transform="rotate(-10 911.09 200.18)" style="stroke-width:2.6"/>
<path class="b" d="M908.27 195.46L911.09 205.83M913.92 193.58L916.75 204.89M918.63 190.75C922.4 196.41 922.4 203.94 919.57 208.66"/>
<path class="l" d="M914.48 210.54L914.48 243.14" style="stroke-width:2.6"/>
<!-- 22146D -->
<path class="l" d="M1145.7 96.53L1145.7 118.2" style="stroke-width:2.6"/>
<path class="w" d="M1137.79 122.91L1144.76 118.77L1151.73 121.41L1145.33 127.63Z" style="stroke-width:2.8"/>
</g>

<!-- c02_shaft.svg -->
<g>
<!-- 22170 shaft -->
<path class="w" d="M1131.31 139.3L1148.27 134.59L1155.8 128.93L1210.45 116.68L1217.99 111.03C1225.53 95.95 1240.6 95.95 1245.31 105.38L1251.91 106.32C1257.56 111.03 1255.68 126.11 1250.02 129.87L1244.37 135.53C1240.6 146.83 1227.41 146.83 1217.99 135.53L1161.46 148.72L1150.15 147.78L1133.19 150.98C1127.54 150.6 1127.54 140.24 1131.31 139.3Z" style="stroke-width:2.8"/>
<path class="p" d="M1136.02 138.92C1138.84 142.12 1138.84 147.78 1136.58 150.6M1139.79 137.79L1141.67 149.1M1143.56 137.04L1145.44 148.34M1147.32 135.53L1148.64 147.78M1148.27 134.59C1152.04 132.7 1155.8 131.76 1158.63 132.7M1150.15 147.78C1153.92 144.95 1159.57 143.07 1161.46 144.01M1210.45 116.68C1214.22 118.57 1218.93 127.99 1217.99 135.53M1214.22 113.86C1221.76 116.68 1225.53 129.87 1222.7 139.3"/>
<ellipse class="p" cx="1233.07" cy="122.34" rx="13.19" ry="22.24" transform="rotate(-8 1233.07 122.34)" style="stroke-width:2.6"/>
<ellipse class="p" cx="1228.35" cy="123.28" rx="8.48" ry="16.96" transform="rotate(-8 1228.35 123.28)"/>
<path class="p" d="M1240.6 102.55C1250.02 109.15 1250.02 127.99 1242.49 137.41M1245.31 105.38C1251.91 112.91 1250.97 126.11 1246.26 132.7M1217.99 111.03C1221.76 107.26 1225.53 105.38 1229.3 105.38"/>
<path class="l" d="M1231.18 145.33L1230.8 167.19" style="stroke-width:2.6"/>
<!-- 22170A -->
<path class="l" d="M1208.57 67.69L1208.57 96.33" style="stroke-width:2.6"/>
<path class="w" d="M1199.15 100.67C1201.03 95.95 1212.34 95.95 1213.28 101.23L1207.06 105.75C1202.91 105.75 1199.15 104.43 1199.15 100.67Z" style="stroke-width:2.8"/>
<path class="p" d="M1204.8 100.1L1210.45 101.61"/>
<!-- 22146D leader (diamond drawn in c01) -->
<!-- 22108A -->
<path class="l" d="M1277.91 46.02L1277.91 76.17" style="stroke-width:2.6"/>
<path class="w" d="M1283.94 70.52L1306.56 66.75L1308.44 70.52L1296.19 76.17L1319.75 86.53L1327.29 84.27L1333.88 112.91L1323.52 118.57L1323.52 124.22L1332.94 126.11L1329.55 137.41L1315.98 141.56C1308.44 146.83 1289.6 150.6 1274.52 137.41C1259.45 124.22 1255.68 92.19 1266.98 79.94Z" style="stroke-width:2.8"/>
<ellipse class="p" cx="1285.83" cy="111.03" rx="22.24" ry="33.92" transform="rotate(-10 1285.83 111.03)" style="stroke-width:2.6"/>
<ellipse class="p" cx="1293.37" cy="111.03" rx="11.68" ry="24.5" transform="rotate(-10 1293.37 111.03)" style="stroke-width:2.6"/>
<path class="p" d="M1265.1 86.53C1262.27 95.95 1263.22 107.26 1266.04 112.91M1270.75 83.71C1282.06 78.05 1297.14 82.76 1308.44 92.19C1315.98 101.61 1315.98 120.45 1310.33 135.53M1285.83 72.4L1295.25 79.94M1297.14 95.01C1300.9 105.38 1300.9 118.57 1297.14 129.87M1289.6 114.8L1299.02 126.11M1285.83 120.45L1295.25 132.7M1300.9 135.53C1308.44 135.53 1314.1 129.87 1315.98 124.22M1319.75 86.53C1322.58 95.95 1323.52 109.15 1323.52 118.57M1325.4 127.99C1327.29 129.87 1327.29 132.7 1325.4 134.59"/>
<!-- 22632A -->
<path class="l" d="M1358.38 39.42L1358.38 80.5" style="stroke-width:2.6"/>
<path class="w" d="M1338.59 76.17L1350.84 73.72L1351.78 80.88L1363.09 81.26L1364.97 88.42L1355.55 90.3L1355.55 95.01L1364.97 95.95L1364.97 103.49L1360.26 105.38L1360.26 111.03L1348.96 113.86L1344.25 109.15L1340.48 105.38L1334.82 106.32L1332 97.84L1334.82 92.19L1332.94 84.65L1336.71 82.76Z" style="stroke-width:2.8"/>
<path class="b" d="M1343.3 86.53L1348.96 85.59M1342.36 94.07L1346.13 95.95M1352.73 102.55L1359.32 101.61M1338.59 97.84L1336.71 101.61M1355.55 84.65L1356.49 90.3M1350.84 109.15L1351.78 112.91"/>
<!-- 22659 spring -->
<path class="b" d="M1369.69 84.65C1373.45 86.53 1373.45 94.07 1369.69 95.95M1375.34 83.14C1379.67 85.59 1379.67 93.13 1375.34 95.01M1381.56 81.82C1385.7 84.65 1385.7 91.24 1381.56 94.07M1387.59 80.5C1391.36 83.14 1391.36 89.92 1387.96 92.19"/>
<path class="l" d="M1383.25 94.07L1383.25 121.39" style="stroke-width:2.6"/>
<!-- 22655A -->
<path class="w" d="M1301.85 164.74C1301.85 160.97 1313.15 160.97 1313.15 164.74L1313.15 190.18C1313.15 193.94 1301.85 193.94 1301.85 190.18Z" style="stroke-width:2.8"/>
<path class="p" d="M1301.85 183.58L1313.15 183.58M1305.62 171.33C1308.44 172.27 1308.44 176.04 1305.62 176.98"/>
<path class="l" d="M1306.56 193.94L1306.56 212.79" style="stroke-width:2.6"/>
<!-- 22658 no1 -->
<path class="w" d="M1324.46 163.79L1348.96 157.2L1350.28 162.85L1326.34 169.82C1322.58 169.45 1322.01 165.3 1324.46 163.79Z" style="stroke-width:2.8"/>
<ellipse class="w" cx="1351.78" cy="160.02" rx="3.77" ry="5.28" style="stroke-width:2.8"/>
<path class="l" d="M1336.71 168.5L1349.9 181.7L1358.38 181.7" style="stroke-width:2.6"/>
<!-- 22656 -->
<path class="w" d="M1360.26 153.43L1366.86 150.6L1383.82 149.1L1387.59 153.43L1387.59 160.02L1381.93 162.85L1370.63 164.17L1368.74 160.02L1361.21 159.08Z" style="stroke-width:2.8"/>
<path class="b" d="M1366.86 150.6L1368.74 160.02M1364.97 155.31L1380.05 153.43M1380.05 149.66L1381.93 162.85"/>
<path class="l" d="M1387.59 156.63L1420 158.14" style="stroke-width:2.4"/>
</g>

<!-- c03_22130.svg -->
<g>
<path class="l" d="M1451.6 65.9L1477.71 65.9" style="stroke-width:2.4"/>
<path class="w" d="M1410.44 44.54C1425.48 38.99 1442.89 48.49 1450.8 67.49C1457.14 86.48 1450.8 105.48 1434.97 111.81C1425.48 114.97 1414.4 110.23 1408.07 106.27C1403.32 99.15 1400.15 91.23 1395.4 83.32C1389.07 70.65 1395.4 51.66 1410.44 44.54Z" style="stroke-width:2.8"/>
<path class="p" d="M1411.23 46.91C1428.64 43.74 1444.47 57.99 1448.43 76.98C1450.8 91.23 1446.05 103.89 1436.56 110.23"/>
<path class="b" d="M1428.64 46.12C1442.89 53.24 1452.39 72.24 1450.8 89.65C1449.22 99.15 1444.47 105.48 1439.72 108.64"/>
<path class="p" d="M1396.98 72.24L1408.07 65.11L1419.15 70.65L1423.89 83.32L1419.94 93.61L1408.86 98.35L1400.94 86.48ZM1408.07 65.11L1407.27 51.66M1407.27 51.66C1409.65 48.49 1414.4 46.91 1419.15 47.7M1412.81 52.45L1422.31 59.57M1419.15 49.28L1430.23 58.78M1408.86 98.35C1406.48 103.89 1409.65 108.64 1417.56 110.23M1419.94 93.61L1426.27 97.56L1429.43 96.77M1436.56 80.15C1438.93 89.65 1434.97 102.31 1428.64 107.06M1409.65 65.9L1415.98 72.24"/>
<path class="b" d="M1414.4 82.52C1409.65 82.52 1408.86 89.65 1412.81 91.23L1419.15 89.65M1396.19 83.32L1403.32 95.98"/>
</g>

<!-- c04_22751.svg -->
<g>
<!-- wires -->
<path d="M1198.62 317.63L1198.62 340.24C1198.62 363.79 1223.49 363.42 1248.93 362.29" fill="none" stroke="#000" stroke-width="7.6" stroke-linecap="butt"/>
<path d="M1198.62 317.63L1198.62 340.24C1198.62 363.79 1223.49 363.42 1248.93 362.29" fill="none" stroke="#fff" stroke-width="3.4" stroke-linecap="butt"/>
<path d="M1280.02 281.82C1295.1 277.11 1307.35 276.17 1306.41 290.3C1305.46 314.8 1291.33 333.64 1274.37 347.78" fill="none" stroke="#000" stroke-width="7.6"/>
<path d="M1280.02 281.82C1295.1 277.11 1307.35 276.17 1306.41 290.3C1305.46 314.8 1291.33 333.64 1274.37 347.78" fill="none" stroke="#fff" stroke-width="3.4"/>
<!-- connector -->
<path class="w" d="M1181.66 262.04L1196.17 259.21L1206.53 259.77L1219.35 270.52L1217.84 296.9L1215.01 297.84L1214.07 314.8L1199.94 317.63L1186.75 311.03L1186.75 292.19L1181.66 289.36Z" style="stroke-width:2.8"/>
<path class="p" d="M1181.66 262.04L1199.94 274.28L1219.35 270.52M1199.94 284.65L1199.94 317.63M1186.75 292.19L1199.94 300.67L1215.01 297.84M1187.69 264.86L1200.88 272.4L1215.01 269.57M1193.34 263.92L1197.11 267.69M1200.88 265.8L1204.65 270.52M1206.53 266.75L1210.3 270.52"/>
<!-- cap -->
<path class="l" d="M1231.97 251.67L1231.97 274.28L1247.99 287.47" style="stroke-width:2.4"/>
<path class="w" d="M1243.28 294.07C1244.22 277.11 1281.91 273.34 1289.45 295.95L1287.56 324.22L1280.02 327.05C1266.83 326.11 1251.76 324.22 1243.28 316.68Z" style="stroke-width:2.8"/>
<path class="p" d="M1246.11 297.84C1247.99 302.55 1253.64 303.49 1257.41 303.49M1280.02 327.05L1280.02 311.03M1275.31 325.16L1275.31 315.74M1283.79 326.11L1283.79 309.15M1270.6 286.53L1274.37 285.59M1281.91 295.95L1287.56 300.67M1253.64 280.88L1257.41 286.53M1280.02 281.82L1285.68 288.42L1295.1 284.65"/>
<!-- switch -->
<path class="w" d="M1257.79 350.6L1257.79 340.24C1259.3 336.47 1272.49 336.47 1273.99 340.24L1273.99 350.6L1280.02 352.49L1283.79 360.02L1283.79 375.1L1276.26 378.87L1276.26 393.94L1270.6 398.66C1272.49 407.14 1260.24 408.08 1261.18 398.66L1254.59 393.94L1253.64 379.81L1247.99 374.16L1247.05 360.02L1251.76 351.55Z" style="stroke-width:2.8"/>
<path class="p" d="M1247.05 360.02L1264.95 365.68L1283.79 360.02M1264.95 365.68L1265.89 380.75M1251.76 351.55C1257.41 356.26 1274.37 356.26 1280.02 352.49M1253.64 379.81L1265.89 380.75L1276.26 378.87M1254.02 384.52L1276.26 383.58M1254.21 389.23L1276.26 388.29M1254.59 393.94L1276.26 393M1261.18 341.18L1270.6 341.18M1263.07 343.07L1263.07 349.66M1268.72 343.07L1268.72 349.66M1255.53 353.43L1259.3 354.37M1270.6 354.37L1276.26 353.99"/>
<!-- 22390A bracket -->
<path class="l" d="M1130.4 402.42L1142.84 402.42M1142.84 387.91L1142.84 418.44M1142.84 387.91L1253.64 389.8M1142.84 418.44L1161.68 418.44" style="stroke-width:2.4"/>
<!-- 22193 no2 o-ring -->
<path class="l" d="M1222.55 418.44L1254.96 420.7" style="stroke-width:2.2"/>
<ellipse class="p" cx="1265.33" cy="420.7" rx="10.36" ry="4.9" style="stroke-width:2.8"/>
</g>

<!-- c05_clips.svg -->
<g>
<!-- dashed -->
<path class="d" d="M1322.98 439.36L1303.19 445.01L1303.19 500.6" style="stroke-dasharray:9 5"/>
<path class="d" d="M1303.19 526.04L1303.19 533.58L1284.35 537.35" style="stroke-dasharray:9 5"/>
<path class="d" d="M1380.45 463.86L1341.82 473.28L1341.82 503.43" style="stroke-dasharray:9 5"/><path class="d" d="M1341.82 525.48L1341.82 553.37" style="stroke-dasharray:9 5"/>
<!-- clip 64230 -->
<path class="l" d="M1354.64 384.71L1354.64 409.59" style="stroke-width:2.6"/>
<path class="w" d="M1321.09 419.57C1322.04 412.04 1333.34 410.15 1355.95 409.21L1371.97 417.69L1372.91 434.65L1366.32 437.47L1353.13 429.37L1348.42 424.85C1348.79 430.88 1347.47 434.65 1346.53 436.53L1332.4 439.36C1323.92 438.42 1321.09 428.99 1321.09 419.57Z" style="stroke-width:2.8"/>
<path class="p" d="M1326.75 434.65C1323.92 427.11 1325.8 417.69 1335.23 415.8C1340.88 415.8 1346.53 419.57 1348.42 424.85M1330.52 433.71C1328.63 427.11 1330.52 420.52 1336.17 419.57M1341.82 417.69L1353.13 422.4L1366.32 422.4L1371.97 417.69M1353.13 422.4L1353.13 429.37M1355.01 425.23C1359.72 424.28 1364.43 427.11 1366.32 431.82"/>
<path class="b" d="M1363.49 424.28C1365.38 426.17 1366.32 428.99 1365.75 431.82"/>
<!-- clip 6A330 -->
<path class="l" d="M1416.63 376.23L1416.63 409.59" style="stroke-width:2.6"/>
<path class="w" d="M1379.51 436.53L1392.7 434.65L1400.24 440.3L1400.24 459.15L1406.83 468.57L1405.89 473.28L1418.14 468.57L1418.14 461.97L1413.43 461.03L1413.43 436.53L1420.02 434.65L1439.81 425.23L1440.75 414.86L1433.22 409.21C1421.91 406.38 1401.18 412.04 1399.3 420.52L1403.07 426.17L1402.12 436.53L1395.53 434.65Z" style="stroke-width:2.8"/>
<path class="p" d="M1403.07 426.17L1421.91 418.63L1435.1 416.75M1406.83 430.88L1420.02 428.05L1436.98 420.52M1403.07 436.53L1413.43 436.53M1400.24 440.3L1403.07 436.53M1405.89 473.28L1404.95 466.68L1413.43 461.03M1410.6 424.28L1421.91 420.52M1421.91 418.63L1433.22 412.04"/>
<path class="k" d="M1402.12 451.61C1404.95 452.55 1406.83 457.26 1405.89 461.97C1403.07 460.09 1401.18 455.38 1402.12 451.61Z"/>
<!-- bolt 58200 (4) -->
<path class="l" d="M1480.7 398.84L1480.7 429.94" style="stroke-width:2.6"/>
<path class="w" d="M1446.41 440.68L1498.23 427.11L1500.11 435.59L1448.29 450.1C1443.58 450.1 1442.26 443.13 1446.41 440.68Z" style="stroke-width:2.8"/>
<path class="b" d="M1450.18 440.3L1452.06 448.78M1454.89 438.98L1456.77 447.46M1459.6 437.66L1461.48 446.14M1464.31 436.53L1466.19 445.01M1469.02 435.21L1470.9 443.69M1473.73 434.08L1475.62 442.56"/>
<path class="w" d="M1497.29 422.4L1506.71 417.69L1512.36 420.52L1514.62 430.88L1512.36 435.59L1503.88 438.42L1499.17 435.59Z" style="stroke-width:2.8"/>
<path class="p" d="M1499.17 425.23L1508.59 422.4L1512.36 420.52M1508.59 422.4L1510.48 436.53M1503.88 438.42L1502.94 427.11"/>
<!-- 22176 / 22176A leaders -->
<path class="l" d="M1393.27 506.26L1393.27 537.91" style="stroke-width:2.6"/>
<path class="l" d="M1320.15 524.16L1320.15 553.37" style="stroke-width:2.6"/>
<!-- 22149 no2 -->
<path class="l" d="M1486.92 492.12L1486.92 496.83L1421.91 541.12" style="stroke-width:2.6"/>
<ellipse class="w" cx="1418.71" cy="551.86" rx="7.54" ry="10.93" transform="rotate(-12 1418.71 551.86)" style="stroke-width:3"/>
<ellipse class="p" cx="1418.14" cy="551.48" rx="3.39" ry="6.6" transform="rotate(-12 1418.14 551.48)" style="stroke-width:2.6"/>
<!-- 22128A -->
<path class="l" d="M1480.33 533.58L1503.88 533.01" style="stroke-width:2.4"/>
<path class="w" d="M1439.81 539.8L1460.54 535.46L1461.48 543.94L1441.7 548.66C1436.98 548.66 1436.04 541.12 1439.81 539.8Z" style="stroke-width:2.8"/>
<path class="b" d="M1444.52 539.23L1446.03 547.34M1449.23 538.29L1450.74 546.21M1453.94 537.16L1455.45 545.08"/>
<path class="w" d="M1460.54 528.87L1470.9 523.59L1475.62 524.72L1480.7 534.52L1478.44 543L1469.02 546.77L1462.42 544.89L1459.22 537.35Z" style="stroke-width:2.8"/>
<path class="p" d="M1470.9 523.59L1469.96 546.77M1460.54 528.87L1467.14 530.75L1475.62 524.72M1467.14 530.75L1466.19 545.83"/>
<ellipse class="p" cx="1464.31" cy="537.91" rx="2.64" ry="4.52"/>
</g>
<g>
<!-- 22176A snap ring -->
<path class="w" d="M1312.61 566.17L1320.15 564.28L1321.09 554.3L1331.46 552.04L1341.82 559.2L1343.71 560.52C1346.53 576.53 1342.76 593.49 1333.34 594.43C1322.04 595.38 1312.61 582.19 1314.5 567.11Z" style="stroke-width:2.8"/>
<path class="p" d="M1322.98 572.76C1322.04 584.07 1327.69 588.78 1332.4 587.84C1337.11 585.95 1338.05 576.53 1337.11 567.11M1320.15 564.28L1334.28 561.08M1325.8 558.63L1333.34 560.52L1340.88 559.2"/>
<!-- 22176 plug -->
<path class="w" d="M1346.53 561.46C1346.53 548.27 1357.84 542.61 1365.38 544.5L1374.8 537.9L1392.7 537.9L1398.35 544.5L1404.01 565.23L1399.3 574.65L1387.99 582.19L1372.91 583.13C1365.38 585.95 1354.07 584.07 1348.42 574.65Z" style="stroke-width:2.8"/>
<ellipse class="p" cx="1359.35" cy="566.17" rx="11.68" ry="18.84" transform="rotate(-10 1359.35 566.17)" style="stroke-width:2.6"/>
<ellipse class="p" cx="1358.78" cy="566.73" rx="5.65" ry="10.36" transform="rotate(-10 1358.78 566.73)" style="stroke-width:2.4"/>
<ellipse class="p" cx="1358.78" cy="566.73" rx="2.26" ry="4.71" transform="rotate(-10 1358.78 566.73)"/>
<path class="b" d="M1365.38 544.5C1374.8 550.15 1378.57 568.99 1372.91 583.13M1370.09 542.24C1380.08 548.27 1383.28 567.11 1378.19 582.19M1374.8 538.84C1385.16 545.44 1387.99 565.23 1383.28 581.24M1387.99 538.84L1395.53 567.11L1392.7 576.53M1392.7 537.9L1403.07 565.23"/>
<path class="p" d="M1380.45 557.69L1383.28 568.99M1387.99 546.38L1392.7 548.27"/>
<!-- 22131 -->
<path class="w" d="M1435.1 574.65L1453.94 568.05L1467.14 564.28L1478.44 560.52L1484.1 558.63L1487.86 563.34L1502.94 559.57C1505.77 563.34 1504.82 570.88 1502.94 573.71L1487.86 578.42L1485.98 581.24L1475.62 585.01L1469.02 584.07L1459.6 588.78L1446.41 592.55C1435.1 595.38 1427.56 584.07 1435.1 574.65Z" style="stroke-width:2.8"/>
<ellipse class="p" cx="1437.93" cy="584.07" rx="5.65" ry="9.05" transform="rotate(-15 1437.93 584.07)" style="stroke-width:2.6"/>
<path class="b" d="M1444.52 573.71C1449.23 578.42 1450.18 585.95 1447.35 591.98M1450.18 571.26C1454.89 576.53 1455.83 584.07 1453 590.1M1455.83 569.37C1460.54 574.65 1461.11 582.19 1458.66 588.22M1461.48 567.11C1465.63 571.82 1466.19 579.92 1463.74 585.95M1467.14 565.23C1470.9 569.94 1471.85 577.47 1469.02 583.69M1478.44 561.08C1473.73 567.11 1474.67 578.42 1476.56 584.45M1484.1 559.2L1485.98 580.68M1492.58 562.4L1494.46 576.16M1496.34 561.46L1498.23 575.03M1500.11 560.52L1501.43 573.71"/>
<ellipse class="p" cx="1473.73" cy="573.71" rx="3.77" ry="6.03"/>
<path class="p" d="M1436.04 582.19L1440.75 585.01"/>
<path class="l" d="M1485.6 583.13L1485.6 611.39" style="stroke-width:2.6"/>
<!-- 22104 -->
<path class="w" d="M1345.59 602.91C1348.42 599.15 1354.07 600.09 1355.95 601.97L1360.67 602.91L1372.54 599.15L1372.91 606.31L1361.23 610.83L1356.9 614.22C1354.07 617.05 1348.42 617.05 1345.59 613.28C1343.14 610.45 1343.14 605.74 1345.59 602.91Z" style="stroke-width:2.8"/>
<ellipse class="p" cx="1348.79" cy="608.57" rx="4.15" ry="7.16" style="stroke-width:2.4"/>
<path class="p" d="M1355.95 601.97C1358.22 605.74 1358.22 611.39 1356.9 614.22M1360.67 602.91L1361.23 610.83"/>
<path class="l" d="M1359.35 616.11L1359.35 635.89" style="stroke-width:2.6"/>
<!-- 22148 spring -->
<path class="b" d="M1379.51 594.43C1376.68 598.2 1378.57 603.86 1383.28 605.18C1386.11 602.91 1385.16 596.32 1382.34 593.87ZM1387.99 592.55C1391.76 595.38 1392.7 601.03 1389.87 604.42M1394.02 591.23C1397.79 593.87 1398.73 599.52 1395.9 602.91M1399.86 589.72C1403.63 592.55 1404.57 597.64 1401.93 601.03M1405.33 588.22C1408.34 590.67 1409.1 595.75 1406.83 598.77"/>
<path class="l" d="M1397.04 601.41L1397.04 666.04" style="stroke-width:2.6"/>
<!-- 22149 no1 -->
<ellipse class="w" cx="1330.52" cy="614.22" rx="6.78" ry="9.42" transform="rotate(-8 1330.52 614.22)" style="stroke-width:3"/>
<ellipse class="p" cx="1329.95" cy="614.22" rx="3.02" ry="5.28" transform="rotate(-8 1329.95 614.22)" style="stroke-width:2.4"/>
<path class="l" d="M1326.75 623.64L1317.32 637.78L1317.32 662.27" style="stroke-width:2.6"/>
</g>

<!-- c06_head.svg -->
<rect x="1237.5" y="699" width="69.5" height="28" fill="#ff8080"/>
<text x="1244.7" y="718" font-size="20" textLength="57" lengthAdjust="spacing" style="fill:#8c1515">22140</text>
<path class="d" d="M962.8,586 L1233.6,517.4 L1233.6,544" style="stroke-dasharray:10 5"/>
<path class="d" d="M906.7,465 L926.7,461.7 L926.7,516.7 L940,516.7" style="stroke-dasharray:9 5"/>
<path class="l" d="M962.8,586 L962.8,580"/>
<g>
<!-- 22101B o-ring -->
<ellipse class="w" cx="1204.01" cy="606.47" rx="20.35" ry="35.8" transform="rotate(-12 1204.01 606.47)" style="stroke-width:2.6"/>
<ellipse class="p" cx="1204.57" cy="606.47" rx="17.34" ry="32.41" transform="rotate(-12 1204.57 606.47)" style="stroke-width:2.4"/>
<path class="l" d="M1206.46 641.33L1207.21 666.21" style="stroke-width:2.6"/>
<!-- head flange -->
<path class="w" d="M1238.87 545.23L1238.87 540.52L1266.19 532.98L1299.17 552.39L1310.48 565.95L1314.25 594.22L1309.53 631.91L1275.62 640.39L1271.85 640.39L1236.98 630.02C1221.91 616.83 1214.37 594.22 1220.02 575.38L1220.02 554.65L1221.91 548.62L1229.45 544.28Z" style="stroke-width:2.8"/>
<path class="p" d="M1238.87 540.52L1271.85 562.19L1299.17 552.39M1271.85 562.19L1280.33 575.38L1284.1 605.53L1278.44 639.45M1271.85 565.01L1301.06 556.53M1238.87 545.23L1266.19 558.42C1273.73 565.01 1278.44 575.38 1280.33 588.57M1287.86 572.55L1301.06 569.72M1287.86 610.24L1304.82 606.47M1221.91 548.62C1227.56 547.11 1233.22 550.88 1234.16 556.53L1221.91 571.61M1220.02 575.38C1225.68 564.07 1235.1 560.3 1240.75 559.92"/>
<ellipse class="p" cx="1264.31" cy="547.11" rx="12.25" ry="4.71" style="stroke-width:2.8"/>
<ellipse class="p" cx="1265.25" cy="548.05" rx="7.16" ry="2.26"/>
<path d="M1240.75 560.3C1259.6 565.95 1270.9 584.8 1270.9 605.53C1269.96 616.83 1263.37 626.26 1255.83 630.02" fill="none" stroke="#000" stroke-width="4.2" stroke-linecap="round"/>
<path class="p" d="M1246.41 563.13C1259.6 571.61 1266.19 586.68 1266.19 603.64"/>
<path class="b" d="M1240.75 571.61C1245.46 572.55 1246.41 577.26 1243.58 579.15M1253 582.91C1256.77 584.8 1256.77 590.45 1253.94 591.39M1253 609.3C1256.77 611.18 1256.77 614.95 1253.94 615.89M1269.96 628.14C1274.67 630.02 1274.67 634.74 1271.85 635.68M1271.85 575.38L1275.62 576.32L1275.62 581.97"/>
<path class="d" d="M1234.16 569.72L1234.16 579.15" style="stroke-dasharray:5 4"/>
<!-- center shaft -->
<path class="w" d="M1221.91 588.57L1238.87 583.86C1248.29 582.91 1252.06 597.99 1249.23 607.41L1228.5 613.07Z" style="stroke-width:2.6"/>
<path class="p" d="M1238.87 583.86C1243.58 588.57 1244.52 601.76 1240.75 609.3M1243.58 584.8C1247.91 590.45 1248.29 602.7 1245.46 608.35M1229.45 589.51L1230.39 592.34M1233.22 608.35L1233.59 611.18"/>
<!-- plunger disc -->
<ellipse class="w" cx="1211.55" cy="602.7" rx="9.8" ry="13.57" transform="rotate(-12 1211.55 602.7)" style="stroke-width:2.8"/>
<ellipse class="p" cx="1209.1" cy="604.02" rx="4.15" ry="7.16" transform="rotate(-12 1209.1 604.02)" style="stroke-width:2.6"/>
<path class="p" d="M1220.02 597.99L1228.5 613.07M1213.43 589.51L1222.85 587.63"/>
<!-- rod 22192 -->
<path class="w" d="M1147.47 601.38L1187.05 590.83L1187.99 596.11L1148.79 607.04C1145.59 606.66 1145.21 602.7 1147.47 601.38Z" style="stroke-width:2.6"/>
<path class="w" d="M1187.05 584.8L1195.53 581.41L1204.01 583.86L1205.33 592.34L1198.35 597.99L1189.87 598.93L1186.11 594.22Z" style="stroke-width:2.8"/>
<path class="p" d="M1195.53 581.41L1196.47 597.99M1189.87 586.68L1192.7 594.22M1200.24 584.8L1202.12 593.28"/>
<path class="l" d="M1155.58 606.47L1155.58 634.17" style="stroke-width:2.6"/>
<!-- 22182 -->
<path class="l" d="M1133.91 574.43L1133.91 593.66" style="stroke-width:2.6"/>
<ellipse class="w" cx="1133.91" cy="605.53" rx="7.91" ry="11.31" transform="rotate(-10 1133.91 605.53)" style="stroke-width:3"/>
<ellipse class="p" cx="1132.96" cy="605.9" rx="3.77" ry="7.16" transform="rotate(-10 1132.96 605.9)" style="stroke-width:2.8"/>
<!-- 22143 -->
<ellipse class="w" cx="1112.99" cy="611.18" rx="9.42" ry="11.68" transform="rotate(-10 1112.99 611.18)" style="stroke-width:3"/>
<path class="b" d="M1107.9 605.53L1114.5 603.27L1118.27 609.3L1117.32 616.83L1110.73 619.1L1106.96 613.07ZM1110.35 608.35C1108.84 611.18 1109.79 614.01 1112.24 614.57"/>
<path class="l" d="M1114.5 622.86L1115.44 657.35" style="stroke-width:2.6"/>
<!-- 22140 leader -->
<path class="l" d="M1272.41 640.39L1273.73 699.37" style="stroke-width:2.6"/>
</g>

<!-- c07_22350.svg -->
<g>
<!-- 22314A spring -->
<path class="b" d="M997.99 536.68C994.22 540.45 996.11 547.05 999.87 547.99C1002.7 545.16 1001.76 538.57 998.93 536.31M1004.59 534.8C1008.35 537.63 1009.3 543.28 1007.04 546.48M1010.24 533.29C1014.01 535.74 1014.95 541.39 1012.69 544.6M1015.33 531.41C1019.1 533.86 1020.23 539.51 1017.78 542.71M1020.23 529.52C1023.99 531.97 1025.31 537.06 1022.86 540.45M1024.37 527.64C1027.2 530.09 1028.14 534.8 1025.88 538.19"/>
<path class="l" d="M1026.26 531.97L1045.1 531.97" style="stroke-width:2.4"/>
<!-- 22144 spring -->
<path class="l" d="M1058.29 596.98L1058.29 618.09" style="stroke-width:2.6"/>
<ellipse class="p" cx="1051.7" cy="628.08" rx="4.52" ry="8.48" transform="rotate(-12 1051.7 628.08)" style="stroke-width:3"/>
<path class="b" d="M1058.29 618.66C1063 622.42 1063.94 629.96 1061.12 635.62M1063.94 617.34C1068.66 621.11 1069.6 628.64 1066.77 633.73M1069.6 615.83C1074.31 619.6 1075.25 626.76 1072.42 632.41M1075.25 614.32C1079.96 618.09 1080.9 625.25 1078.08 630.53M1080.9 613C1085.05 616.21 1086.18 623.37 1083.73 628.64M1086.18 611.31C1090.33 614.89 1091.27 621.48 1088.82 626.76M1090.7 609.8C1095.04 613 1095.98 619.6 1093.72 624.5M1095.04 608.67C1098.81 611.68 1099.75 617.71 1097.49 622.42"/>
<!-- 22163 leader -->
<path class="l" d="M992.34 610.18L992.34 654.46" style="stroke-width:2.6"/>
</g>

<!-- c08_22145.svg -->
<g>
<!-- 22163 -->
<ellipse class="w" cx="994.79" cy="663.69" rx="9.05" ry="12.81" transform="rotate(-10 994.79 663.69)" style="stroke-width:3.2"/>
<ellipse class="p" cx="993.28" cy="664.45" rx="3.39" ry="7.16" transform="rotate(-10 993.28 664.45)" style="stroke-width:2.8"/>
<!-- 22145 plate -->
<path class="w" d="M1010.24 630.15C1013.07 624.5 1022.49 623.56 1030.02 626.38L1043.22 631.09L1071.48 652.76L1072.42 658.42L1068.66 660.3L1070.54 669.72L1063.94 674.43L1039.45 668.78L1028.14 660.3L1020.6 647.11L1013.07 642.4Z" style="stroke-width:2.8"/>
<path class="p" d="M1024.37 629.21L1039.45 633.92L1067.71 654.65M1014.95 634.86C1018.72 635.8 1019.66 640.52 1016.83 641.83M1058.29 660.68C1062.06 662.19 1063 666.9 1060.18 668.78"/>
<path class="b" d="M1068.66 653.71L1071.48 656.53M1066.77 665.01L1065.83 671.61"/>
<ellipse class="p" cx="1037.19" cy="651.82" rx="9.42" ry="13.19" transform="rotate(-12 1037.19 651.82)" style="stroke-width:2.8"/>
<ellipse class="p" cx="1034.74" cy="652.76" rx="5.28" ry="8.48" transform="rotate(-12 1034.74 652.76)" style="stroke-width:2.6"/>
<path class="l" d="M1063 675.38L1063 726.63" style="stroke-width:2.6"/>
<!-- 22162 -->
<ellipse class="w" cx="1014.95" cy="657.47" rx="8.48" ry="12.81" transform="rotate(-10 1014.95 657.47)" style="stroke-width:3.2"/>
<ellipse class="p" cx="1013.63" cy="658.42" rx="3.02" ry="6.6" transform="rotate(-10 1013.63 658.42)" style="stroke-width:2.8"/>
<path class="l" d="M1016.83 670.67L1016.83 698.37" style="stroke-width:2.6"/>
<!-- 22149 no2 washer + 22739 plug -->
<ellipse class="w" cx="922.61" cy="736.62" rx="12.81" ry="15.45" transform="rotate(15 922.61 736.62)" style="stroke-width:3"/>
<ellipse class="p" cx="923.56" cy="738.5" rx="5.09" ry="9.42" transform="rotate(22 923.56 738.5)" style="stroke-width:2.8"/>
<path class="l" d="M923.56 751.7L932.98 770.54L932.98 782.79" style="stroke-width:2.6"/>
<path class="w" d="M934.86 742.27L943.34 745.1L956.53 748.87L962.19 746.98C975.38 745.1 982.91 756.41 981.03 767.71C979.15 779.02 967.84 783.73 960.3 779.02C954.65 776.19 948.99 769.6 948.05 763.94L938.63 754.52L933.92 746.04Z" style="stroke-width:2.8"/>
<path class="b" d="M940.52 745.1C938.63 748.87 939.57 753.58 942.4 755.46M946.17 746.61C943.72 750.75 944.85 756.41 948.05 759.23M951.82 748.49C948.99 753.01 949.94 759.8 953.71 762.44M956.53 749.81C953.71 755.46 954.65 763.94 958.42 767.71"/>
<ellipse class="p" cx="967.84" cy="764.89" rx="10.36" ry="12.81" transform="rotate(-10 967.84 764.89)" style="stroke-width:2.6"/>
<path class="b" d="M973.49 760.18C969.72 757.35 963.13 760.18 963.13 766.77C963.13 772.42 968.78 774.31 972.55 770.54"/>
<path class="l" d="M981.03 767.34L1008.35 767.34" style="stroke-width:2.4"/>
</g>

<!-- c09_22689.svg -->
<g>
<path class="l" d="M1220.35 448.74L1247.74 448.74" style="stroke-width:2.4"/>
<ellipse class="w" cx="1264.95" cy="447.99" rx="17.59" ry="7.79" style="stroke-width:2.8"/>
<ellipse class="p" cx="1264.95" cy="447.99" rx="13.19" ry="4.77" style="stroke-width:2.6"/>
<path class="l" d="M1225.38 486.43L1254.52 486.43" style="stroke-width:2.4"/>
<path class="w" d="M1254.52 476.63C1254.52 471.61 1275.38 471.61 1275.38 476.63L1275.38 496.11C1275.38 501.13 1254.52 501.13 1254.52 496.11Z" style="stroke-width:3"/>
<path class="p" d="M1254.52 477.26C1256.78 481.03 1273.12 481.03 1275.38 477.26"/>
<path class="k" d="M1258.04 480.4L1272.49 480.4L1272.49 496.73L1258.04 496.73Z"/>
<path d="M1261.18 481.66L1261.18 496.11M1264.95 481.66L1264.95 496.11M1268.72 481.66L1268.72 496.11" stroke="#fff" stroke-width="1.3" stroke-dasharray="2.5 2.5" fill="none"/>
<ellipse cx="1264.95" cy="476" rx="6.91" ry="1.76" fill="#fff" stroke="#000" stroke-width="1.5"/>
</g>

<!-- c10_22350_detail.svg -->
<g>
<path class="l" d="M981.53 493.39L1009.67 493.39" style="stroke-width:2.4"/>
<path class="w" d="M953.39 475.74C958.16 473.35 967.7 472.4 970.56 476.22L971.51 484.8L981.05 491.48L981.53 503.88L977.23 506.74L985.82 542.04L986.77 542.51L987.73 547.76L991.07 550.14L991.54 570.65L977.23 574.47L975.8 573.51L975.33 567.79L967.7 566.84L966.74 571.61L961.97 572.56L958.63 570.65L957.2 561.11L937.17 552.53L936.69 549.19L939.08 546.8L939.55 539.65L945.28 540.13L944.8 534.4L940.51 533.45L940.51 521.05L943.85 519.14L943.85 513.42L939.55 511.51L939.55 504.83L949.57 503.88L949.57 490.52Z" style="stroke-width:2.9"/>
<path class="p" d="M949.57 503.88L964.83 496.25L966.74 486.71L964.83 480.03L967.7 479.55M966.74 486.71L971.51 484.8M949.09 509.6L959.11 506.74L969.6 513.42L971.51 525.82L967.7 532.5L961.97 533.45L961.49 528.68L957.68 527.73L957.2 521.05L952.43 521.05L949.57 516.28ZM954.34 515.33L964.83 513.42M958.16 516.28L956.25 519.14M962.93 521.05C965.79 519.14 970.56 521.05 971.51 523.91M965.79 522.96L969.6 523.43M953.39 522L954.34 529.63M975.8 542.99L986.77 542.51M975.8 542.99L975.8 573.51M978.19 545.85L985.82 545.85L986.77 550.62L989.63 551.57M945.76 543.94C947.66 548.71 946.71 554.44 943.85 555.39M952.43 542.99L953.39 556.34M955.29 542.04L956.25 545.85M960.06 546.8L964.83 544.9L967.7 548.71L968.65 555.39L973.42 554.44M961.97 534.4L961.02 566.84M973.42 554.44L971.99 567.79M939.08 549.67L944.8 551.57M957.2 561.11L960.06 560.16" style="stroke-width:2.6"/>
<path class="b" d="M966.74 504.83L971.51 505.79M971.51 517.23L974.37 516.76M982 563.98C984.87 562.07 988.68 564.93 986.77 568.74M982.96 564.93L986.77 568.74M948.62 545.85L949.57 553.48M941.46 505.79L943.85 511.51"/>
</g>

<!-- d01_22790.svg -->
<g>
<path class="l" d="M1221.17 804.5L1221.17 823.34" style="stroke-width:2.6"/>
<circle class="w" cx="1220.6" cy="837.47" r="13.94"/>
<path class="d" d="M1203.64 828.05L1183.86 814.86L1183.86 891.18" style="stroke-dasharray:9 5"/>
<!-- 22790A -->
<path class="l" d="M1142.4 849.72L1142.4 877.99" style="stroke-width:2.6"/>
<ellipse class="w" cx="1144.85" cy="898.72" rx="17.9" ry="22.24" transform="rotate(15 1144.85 898.72)" style="stroke-width:2.8"/>
<ellipse class="p" cx="1144.85" cy="898.72" rx="12.25" ry="17.34" transform="rotate(15 1144.85 898.72)" style="stroke-width:2.6"/>
<!-- 22790 body -->
<path class="w" d="M1246.98 862.91C1248.87 855.38 1256.41 853.49 1260.18 855.38L1277.14 864.8L1314.82 857.26L1339.32 852.55C1348.74 850.67 1352.51 859.15 1348.74 862.91L1319.53 869.51C1323.3 877.99 1324.25 885.53 1323.87 890.24L1343.09 885.53C1351.57 884.59 1354.4 893.07 1349.69 896.83L1324.25 903.43L1320.48 902.49L1297.86 910.02L1263.94 922.27L1262.06 949.6L1254.52 960.9L1260.18 965.62L1257.35 970.33L1239.45 973.15L1233.79 968.44L1230.02 977.86L1218.72 979.94L1201.76 968.44L1199.87 960.9L1171.61 942.06L1171.61 900.6L1181.97 895.89L1182.91 902.49L1185.74 893.07L1207.41 879.87L1207.41 862.91L1227.2 858.2L1231.91 862.91L1239.45 872.34L1243.22 874.22Z" style="stroke-width:2.8"/>
<path class="p" d="M1207.41 862.91L1230.02 874.22L1230.02 893.07L1220.6 891.18L1207.41 879.87M1230.02 874.22L1239.45 872.34M1213.07 868.57L1220.6 866.68L1230.02 874.22M1214.95 871.39L1217.78 868.57M1224.37 883.64L1224.37 893.07M1185.74 893.07L1205.53 881.76M1197.99 889.3L1209.3 882.7M1182.91 902.49L1177.26 905.31L1175.38 943.94M1220.6 893.07L1209.3 911.91L1201.76 960.9M1220.6 896.83C1218.72 900.6 1220.6 904.37 1223.43 904.75M1218.72 910.02C1224.37 913.79 1231.91 910.02 1236.62 902.49M1213.07 913.79L1243.22 923.22L1245.1 928.87L1230.02 977.86M1231.91 930.75L1220.6 974.1M1230.02 919.45L1245.1 919.45L1245.1 928.87M1248.87 920.39L1263.94 922.27M1241.33 874.22L1246.98 893.07L1260.18 910.02L1263.94 923.22M1246.98 876.11C1248.87 881.76 1252.64 882.7 1254.52 881.76M1262.06 902.49L1262.06 915.68"/>
<path class="p" d="M1277.14 864.8C1288.44 874.22 1297.86 893.07 1297.86 910.02M1314.82 857.26C1322.36 864.8 1326.13 881.76 1320.48 902.49M1280.9 862.91C1286.56 868.57 1290.33 874.22 1292.21 879.87M1270.54 887.41L1277.14 888.35L1280.9 882.7M1275.25 876.11C1273.37 873.28 1276.19 870.45 1280.9 871.39M1299.75 911.91L1318.59 907.2M1319.53 869.51L1314.82 857.26"/>
<ellipse class="p" cx="1344.97" cy="858.2" rx="5.09" ry="6.6" style="stroke-width:2.6"/>
<ellipse class="p" cx="1348.37" cy="891.18" rx="4.52" ry="6.41" style="stroke-width:2.6"/>
<path class="l" d="M1353.45 892.12L1389.26 892.69" style="stroke-width:2.4"/>
<!-- coil -->
<path class="b" d="M1205.53 911.91C1190.45 910.02 1181.03 925.1 1182.91 940.18C1183.86 949.6 1190.45 955.25 1197.99 956.19M1208.35 915.68C1196.11 914.74 1188.57 926.98 1190.08 940.18C1191.02 948.66 1195.16 952.42 1199.87 953.37M1209.3 920.39C1200.82 920.39 1195.16 929.81 1196.11 940.18C1197.05 946.77 1199.87 949.6 1202.7 950.54M1184.8 911.91C1181.03 912.85 1180.09 916.62 1182.91 918.5"/>
<path class="w" d="M1207.41 926.98L1216.83 924.16L1224.37 928.87L1225.31 937.35L1217.78 942.06L1208.35 940.18Z" style="stroke-width:2.8"/>
<ellipse class="p" cx="1212.12" cy="932.64" rx="3.39" ry="5.28" style="stroke-width:2.6"/>
<path class="p" d="M1216.83 924.16L1217.78 942.06M1199.87 930.75L1207.41 930.75M1197.99 936.41L1208.35 937.35"/>
<!-- stud -->
<path class="w" d="M1239.45 949.6C1243.22 943.94 1252.64 945.83 1254.52 951.48L1253.58 958.08C1260.18 959.02 1262.06 966.56 1257.35 970.33L1248.87 971.27L1239.45 973.15C1232.85 968.44 1233.79 955.25 1239.45 949.6Z" style="stroke-width:2.8"/>
<ellipse class="p" cx="1253.58" cy="965.62" rx="4.52" ry="5.28" style="stroke-width:2.6"/>
<path class="p" d="M1243.22 953.37L1243.22 968.44M1248.87 955.25L1246.98 960.9L1248.87 968.44"/>
<!-- dashed + bolt -->
<path class="d" d="M1297.86 888.35L1335.55 913.79" style="stroke-dasharray:10 5"/>
<path class="w" d="M1339.32 914.17L1371.36 933.58L1368.53 939.23L1336.49 920.39C1334.61 917.56 1336.49 914.17 1339.32 914.17Z" style="stroke-width:2.8"/>
<path class="b" d="M1343.09 916.62L1340.26 922.27M1347.8 919.45L1344.97 925.1M1352.51 922.27L1349.69 927.93M1357.22 925.1L1354.4 930.75M1361.93 927.93L1359.11 933.58"/>
<path class="w" d="M1371.36 934.52L1380.78 931.13L1387.37 935.46L1387.94 943L1381.72 949.6L1373.24 947.71L1369.1 942.06Z" style="stroke-width:2.8"/>
<path class="p" d="M1371.36 934.52L1378.89 940.18L1387.37 935.46M1378.89 940.18L1380.78 949.6"/>
<path class="l" d="M1380.78 949.6L1380.78 980.13" style="stroke-width:2.6"/>
</g>
<text x="1211.5" y="846" font-size="23.5" class="t" style="font-weight:normal">S</text>

<!-- d02_22178.svg -->
<g>
<path class="w" d="M1415.38 758.22C1418.29 753.84 1429.95 753.84 1432.14 761.86C1436.51 773.52 1432.86 780.8 1427.04 788.09C1422.66 792.46 1415.38 795.38 1412.46 796.83C1411.01 801.21 1411.01 805.58 1413.92 807.76C1421.21 803.39 1432.86 799.75 1444.52 799.46C1450.35 801.21 1453.27 809.95 1452.54 818.69C1451.81 823.07 1447.44 824.52 1444.52 824.23C1432.86 824.52 1421.21 827.44 1394.97 836.47C1389.15 836.91 1384.77 830.35 1381.86 821.61C1377.49 809.95 1376.03 801.21 1378.94 796.11L1403.72 775.7Z" style="stroke-width:2.8"/>
<path class="b" d="M1418.29 766.23C1423.39 765.5 1425.58 769.87 1423.39 773.23M1437.24 808.49C1443.07 807.76 1444.52 812.86 1442.34 816.51M1424.85 758.94C1428.49 761.86 1429.95 764.77 1429.66 768.42M1448.17 812.14L1447.44 821.61"/>
<path class="w" d="M1385.5 801.21C1388.42 799.02 1391.33 801.21 1392.06 804.85L1399.64 823.07C1400.51 827.44 1397.16 830.35 1394.25 828.17C1392.79 826.71 1392.06 824.52 1391.33 821.61L1384.77 805.58Z" style="stroke-width:3.4"/>
<path class="p" d="M1388.42 803.39L1396.43 825.98"/>
<path class="l" d="M1432.86 764.77L1461.28 765.07" style="stroke-width:2.4"/>
<path class="d" d="M1454 807.76L1476.58 802.66" style="stroke-dasharray:9 4"/>
<circle class="w" cx="1490.43" cy="800.91" r="13.99"/>
<path class="l" d="M1489.41 815.05L1489.41 848.57" style="stroke-width:2.8"/>
</g>
<text x="1482.3" y="809.5" font-size="24" class="t" style="font-weight:normal">B</text>

<!-- d03_22550.svg -->
<g>
<!-- 22550 -->
<path class="w" d="M845.01 825.65C834.65 824.71 825.23 835.08 828.05 852.04L877.99 885.95C887.41 895.38 904.37 889.72 904.37 870.88C904.37 865.23 902.49 861.46 900.6 859.57L847.84 826.6Z" style="stroke-width:2.8"/>
<ellipse class="p" cx="891.56" cy="877.47" rx="9.42" ry="13.57" transform="rotate(25 891.56 877.47)" style="stroke-width:2.6"/>
<path class="p" d="M891.18 860.52C894.95 858.63 898.72 859.57 900.6 862.4M877.99 876.53C877.05 882.19 878.93 885.95 882.7 888.78"/>
<path class="b" d="M851.23 859.2C854.43 860.52 855 864.28 853.49 866.73"/>
<path class="l" d="M861.97 879.36L861.03 938.34" style="stroke-width:2.6"/>
<!-- 22657 -->
<path class="w" d="M818.63 869.94C818.63 865.23 833.71 863.34 835.59 868.05C836.53 872.76 821.46 876.53 818.63 872.76Z" style="stroke-width:2.8"/>
<path class="p" d="M825.23 867.11L830.88 866.17L831.82 869.37"/>
<path class="l" d="M824.85 876.53L823.91 907.06" style="stroke-width:2.6"/>
<!-- spring no2 -->
<path class="b" d="M915.68 883.13C910.02 883.13 907.2 889.72 910.02 897.26C911.91 901.03 914.74 901.03 916.62 900.09M920.39 885.01C914.74 885.95 912.85 892.55 915.3 900.09C916.62 903.86 919.45 903.86 921.33 902.91M925.1 887.84C919.82 888.78 917.94 895.38 920.39 902.91C921.71 906.31 924.16 906.68 926.04 905.74M929.81 891.23C925.1 892.55 923.59 898.77 925.48 905.74C926.61 908.57 928.49 908.94 929.81 908.57M924.16 893.49L936.41 894.43"/>
<path class="l" d="M929.81 890.1L941.12 875.03L957.51 875.03" style="stroke-width:2.6"/>
<!-- ring 22625 -->
<ellipse class="w" cx="952.99" cy="916.11" rx="9.42" ry="12.81" transform="rotate(15 952.99 916.11)" style="stroke-width:3"/>
<ellipse class="p" cx="952.99" cy="916.11" rx="5.65" ry="9.05" transform="rotate(15 952.99 916.11)" style="stroke-width:2.6"/>
<path class="l" d="M946.77 929.3L926.04 976.41L903.43 976.41" style="stroke-width:2.6"/>
<!-- spring no1 -->
<path class="b" d="M977.86 923.27C972.21 923.64 969.38 930.24 972.21 937.78C974.1 941.55 976.92 941.55 978.81 940.6M982.58 925.53C976.92 926.47 975.04 933.07 977.49 940.6C978.81 944.37 981.63 944.37 983.52 943.43M987.29 928.35C982.01 929.3 980.13 935.89 982.58 943.43C983.89 946.82 986.34 947.2 988.23 946.26M992 931.56C987.29 932.69 985.78 939.1 987.66 945.88C988.79 949.08 990.68 949.65 992 949.08M986.34 933.07L999.53 934.01"/>
<path class="l" d="M992.94 931.18L1005.19 915.16L1020.83 915.16" style="stroke-width:2.6"/>
<!-- 22612D -->
<path class="l" d="M1032.51 944.37L1059.27 944.37" style="stroke-width:2.6"/>
<ellipse class="w" cx="1016.49" cy="954.74" rx="16.96" ry="21.67" transform="rotate(15 1016.49 954.74)" style="stroke-width:2.8"/>
<ellipse class="p" cx="1016.49" cy="954.74" rx="11.68" ry="16.96" transform="rotate(15 1016.49 954.74)" style="stroke-width:2.6"/>
<!-- 22193 small ring -->
<ellipse class="w" cx="1033.45" cy="967.93" rx="9.05" ry="12.44" transform="rotate(20 1033.45 967.93)" style="stroke-width:3"/>
<ellipse class="p" cx="1033.45" cy="967.93" rx="5.28" ry="8.48" transform="rotate(20 1033.45 967.93)" style="stroke-width:2.6"/>
<path class="l" d="M1028.74 981.68L1006.51 1026.91L981.07 1026.91" style="stroke-width:2.6"/>
</g>
<use href="#kome" transform="translate(970.5 876.5) scale(0.82)"/>
<text x="980.5" y="882.5" font-size="18" textLength="9" lengthAdjust="spacingAndGlyphs">2</text>
<use href="#kome" x="761" y="975"/>
<text x="773" y="983.5" font-size="22" class="t" style="font-weight:normal;stroke:#000;stroke-width:0.5" textLength="12" lengthAdjust="spacingAndGlyphs">2</text>
<use href="#kome" x="839" y="1015.5"/>
<text x="852" y="1024" font-size="22" class="t" style="font-weight:normal;stroke:#000;stroke-width:0.5" textLength="10" lengthAdjust="spacingAndGlyphs">1</text>
<use href="#kome" x="839" y="1038.5"/>
<text x="851" y="1047" font-size="22" class="t" style="font-weight:normal;stroke:#000;stroke-width:0.5" textLength="12" lengthAdjust="spacingAndGlyphs">2</text>

<!-- d04_22612c.svg -->
<g>
<!-- 22658 no2 plug -->
<path class="w" d="M1042.4 972.34C1047.11 966.68 1056.53 966.68 1060.3 970.45L1070.67 977.99L1071.61 985.53L1076.32 987.41L1076.32 993.07L1071.61 995.89L1069.72 994.95C1065.95 1000.6 1056.53 998.72 1052.76 994.95L1045.23 991.18C1040.52 987.41 1039.57 977.99 1042.4 972.34Z" style="stroke-width:3"/>
<path class="b" d="M1048.99 970.45C1045.23 976.11 1046.17 987.41 1051.82 993.07M1056.53 981.76C1054.65 985.53 1055.59 990.24 1058.42 992.12M1060.3 980.82C1058.79 984.59 1059.55 989.3 1062.19 991.18M1064.07 980.82C1063.13 984.59 1063.69 988.35 1065.95 990.24M1067.84 985.53L1075.38 990.24"/>
<path class="l" d="M1045.23 993.07L1044.28 1054.31" style="stroke-width:2.6"/>
<!-- 22612C -->
<path class="w" d="M1063.13 1019.45L1090.45 987.41L1101.76 983.64L1126.26 983.64L1131.91 988.35L1133.79 1002.49L1130.02 1008.14L1131.91 1015.68C1135.68 1026.98 1128.14 1040.18 1116.83 1040.18C1113.07 1040.18 1107.41 1038.29 1105.53 1035.46L1099.87 1039.23L1088.57 1040.18L1082.91 1034.52L1071.61 1030.75L1064.07 1026.98Z" style="stroke-width:3"/>
<path class="p" d="M1090.45 987.41L1081.03 1008.14L1097.99 1017.56M1101.76 983.64C1094.22 993.07 1088.57 1002.49 1086.68 1008.14M1086.68 1008.14C1094.22 994.95 1107.41 991.18 1116.83 1000.6L1130.02 1008.14M1110.24 987.41L1116.83 1000.6M1120.6 987.41L1125.31 1000.6M1082.91 1011.91L1094.22 1019.45L1088.57 1023.22M1094.22 1019.45L1101.76 1023.22M1097.99 1028.87L1099.87 1039.23M1064.07 1020.39L1079.15 1011.91"/>
<path class="b" d="M1122.49 991.18L1126.26 1002.49M1128.14 993.07L1130.02 1002.49M1082.91 1034.52L1090.45 1036.41"/>
<ellipse class="w" cx="1118.34" cy="1025.1" rx="15.45" ry="16.02" transform="rotate(-20 1118.34 1025.1)" style="stroke-width:2.8"/>
<ellipse class="k" cx="1121.55" cy="1026.61" rx="3.39" ry="6.41" transform="rotate(20 1121.55 1026.61)"/>
<path class="p" d="M1108.35 1028.87L1108.35 1034.52M1120.6 1011.91L1122.49 1014.74"/>
<path class="b" d="M1077.26 1020.39C1072.55 1020.39 1071.23 1026.04 1073.87 1028.87"/>
<path class="l" d="M1111.75 1040.18L1111.75 1073.15" style="stroke-width:2.8"/>
<!-- screw -->
<path class="w" d="M1140.39 1003.43L1154.52 1010.97L1151.7 1016.62L1138.5 1009.08Z" style="stroke-width:2.8"/>
<path class="b" d="M1144.16 1006.26L1141.71 1010.97M1148.87 1008.52L1146.42 1013.42"/>
<ellipse class="w" cx="1159.23" cy="1016.62" rx="8.48" ry="8.48" style="stroke-width:3"/>
<path class="b" d="M1154.52 1011.91L1162.06 1010.97L1165.83 1016.62L1163 1022.27L1156.03 1022.84L1152.64 1017.56ZM1158.29 1015.68C1160.18 1014.74 1162.06 1016.62 1161.12 1019.07"/>
<path class="l" d="M1168.66 1017.56L1198.81 1017.56" style="stroke-width:2.4"/>
<!-- nut -->
<path class="w" d="M1130.97 1036.41L1143.22 1028.87L1156.41 1036.41L1156.41 1047.71L1144.16 1055.25L1130.97 1048.66Z" style="stroke-width:3"/>
<path class="p" d="M1130.97 1036.41L1139.45 1042.06L1143.22 1028.87M1139.45 1042.06L1140.39 1053.37"/>
<ellipse class="p" cx="1148.49" cy="1044.32" rx="5.65" ry="6.78" transform="rotate(20 1148.49 1044.32)" style="stroke-width:2.8"/>
<path class="b" d="M1149.81 1041.12C1146.98 1041.12 1146.04 1044.89 1147.93 1046.77"/>
<path class="l" d="M1153.58 1049.6L1190.33 1049.6" style="stroke-width:2.4"/>
</g>

<!-- d05_22790_detail.svg -->
<g>
<path class="b" d="M1208.24 910.3C1198.19 910.3 1186.13 920.35 1184.12 940.45M1207.24 913.12C1199.2 914.82 1189.65 924.87 1187.34 943.97M1208.44 915.83C1201.41 917.84 1192.66 927.89 1190.45 946.99M1209.45 918.84C1203.42 921.86 1195.68 930.9 1193.87 950M1210.45 921.56C1205.43 924.87 1198.69 933.92 1197.39 953.02M1204.22 936.43L1200.4 955.03M1207.44 938.44L1204.22 956.03M1195.18 930.4L1202.21 929.4M1198.19 934.42L1204.22 933.92" style="stroke-width:2.6"/>
<path class="p" d="M1220.3 906.28C1219.3 910.3 1220.3 913.32 1224.32 913.32L1230.35 912.31L1237.39 904.27L1234.37 901.76M1214.27 914.32L1230.35 925.38L1243.42 928.39M1232.36 916.33L1233.37 920.35L1243.42 919.35L1243.42 928.39M1260.5 902.26L1261.51 914.32M1248.44 921.36L1262.51 919.35"/>
</g>

<g id="labels">
<text x="328.0" y="111.0" font-size="17.5" textLength="131.0" lengthAdjust="spacing">93315-14012 (2)</text>
<text x="113.5" y="147.0" font-size="17.5" textLength="107.0" lengthAdjust="spacing">90179-06009</text>
<text x="102.0" y="271.0" font-size="20.0" textLength="55.0" lengthAdjust="spacing">22701</text>
<text x="122.0" y="371.0" font-size="20.0" textLength="70.0" lengthAdjust="spacing">22322A</text>
<text x="123.0" y="410.0" font-size="20.0" textLength="69.0" lengthAdjust="spacing">22322B</text>
<text x="438.0" y="260.0" font-size="17.5" textLength="107.0" lengthAdjust="spacing">22172-64150</text>
<text x="97.5" y="466.0" font-size="17.5" textLength="131.5" lengthAdjust="spacing">22395-54010 (4)</text>
<text x="330.0" y="513.0" font-size="17.5" textLength="106.0" lengthAdjust="spacing">22395-54263</text>
<text x="63.5" y="618.0" font-size="17.5" textLength="104.5" lengthAdjust="spacing">90099-05161</text>
<text x="97.5" y="649.0" font-size="20.0" textLength="57.5" lengthAdjust="spacing">22119</text>
<text x="112.0" y="717.0" font-size="20.0" textLength="58.0" lengthAdjust="spacing">22119</text>
<text x="351.7" y="720.0" font-size="20.0" textLength="57.3" lengthAdjust="spacing">22545</text>
<text x="420.0" y="613.0" font-size="17.5" textLength="131.0" lengthAdjust="spacing">22395-56351 (2)</text>
<text x="67.0" y="761.0" font-size="17.5" textLength="106.0" lengthAdjust="spacing">90099-18022</text>
<text x="113.5" y="799.0" font-size="20.0" textLength="57.5" lengthAdjust="spacing">22119</text>
<text x="110.0" y="828.0" font-size="20.0" textLength="70.0" lengthAdjust="spacing">22193F</text>
<text x="115.0" y="863.0" font-size="20.0" textLength="70.0" lengthAdjust="spacing">22602A</text>
<text x="326.6" y="923.0" font-size="20.0" textLength="70.9" lengthAdjust="spacing">22753A</text>
<text x="421.5" y="906.0" font-size="20.0" textLength="57.5" lengthAdjust="spacing">22745</text>
<text x="494.5" y="906.5" font-size="20.0" textLength="69.2" lengthAdjust="spacing">22316A</text>
<text x="458.0" y="1015.0" font-size="20.0" textLength="69.7" lengthAdjust="spacing">22753B</text>
<text x="58.5" y="1000.0" font-size="17.5" textLength="106.5" lengthAdjust="spacing">22722-54470</text>
<text x="210.0" y="1063.0" font-size="20.0" textLength="70.0" lengthAdjust="spacing">22384D</text>
<text x="298.0" y="1045.0" font-size="20.0" textLength="57.7" lengthAdjust="spacing">22713</text>
<text x="386.0" y="1063.0" font-size="20.0" textLength="55.0" lengthAdjust="spacing">22741</text>
<text x="121.0" y="1089.0" font-size="20.0" textLength="70.0" lengthAdjust="spacing">22384E</text>
<text x="614.0" y="53.5" font-size="17.5" textLength="131.6" lengthAdjust="spacing">22395-56351 (3)</text>
<text x="552.5" y="206.0" font-size="20.0" textLength="55.1" lengthAdjust="spacing">22601</text>
<text x="883.5" y="257.5" font-size="20.0" textLength="55.5" lengthAdjust="spacing">22611</text>
<text x="684.5" y="403.0" font-size="20.0" textLength="69.5" lengthAdjust="spacing">22740A</text>
<text x="837.0" y="422.0" font-size="20.0" textLength="69.0" lengthAdjust="spacing">22378A</text>
<text x="838.0" y="452.0" font-size="20.0" textLength="57.0" lengthAdjust="spacing">22740</text>
<text x="598.7" y="591.0" font-size="20.0" textLength="57.3" lengthAdjust="spacing">22180</text>
<text x="595.0" y="609.0" font-size="18.0" textLength="58.0" lengthAdjust="spacing">(NO. 1)</text>
<text x="552.0" y="635.0" font-size="20.0" textLength="69.0" lengthAdjust="spacing">22612B</text>
<text x="617.8" y="666.0" font-size="20.0" textLength="68.8" lengthAdjust="spacing">22612D</text>
<text x="822.5" y="591.0" font-size="17.5" textLength="105.5" lengthAdjust="spacing">22193-64750</text>
<text x="964.0" y="608.5" font-size="20.0" textLength="57.0" lengthAdjust="spacing">22163</text>
<text x="921.5" y="633.5" font-size="20.0" textLength="57.5" lengthAdjust="spacing">22179</text>
<text x="987.6" y="716.0" font-size="20.0" textLength="57.4" lengthAdjust="spacing">22162</text>
<text x="1009.6" y="775.5" font-size="20.0" textLength="57.4" lengthAdjust="spacing">22739</text>
<text x="902.4" y="799.0" font-size="20.0" textLength="57.6" lengthAdjust="spacing">22149</text>
<text x="903.4" y="817.0" font-size="18.0" textLength="57.6" lengthAdjust="spacing">(NO. 2)</text>
<text x="490.0" y="815.0" font-size="20.0" textLength="70.0" lengthAdjust="spacing">22146E</text>
<text x="700.0" y="893.0" font-size="20.0" textLength="55.5" lengthAdjust="spacing">22101</text>
<text x="612.8" y="885.5" font-size="20.0" textLength="56.8" lengthAdjust="spacing">22787</text>
<text x="795.0" y="925.5" font-size="20.0" textLength="56.6" lengthAdjust="spacing">22657</text>
<text x="830.6" y="956.0" font-size="20.0" textLength="57.4" lengthAdjust="spacing">22550</text>
<text x="529.6" y="982.5" font-size="20.0" textLength="69.8" lengthAdjust="spacing">22147B</text>
<text x="623.8" y="984.5" font-size="20.0" textLength="69.5" lengthAdjust="spacing">22316B</text>
<text x="556.3" y="1024.0" font-size="17.5" textLength="106.9" lengthAdjust="spacing">90096-90024</text>
<text x="796.8" y="983.0" font-size="17.5" textLength="106.2" lengthAdjust="spacing">22625-17020</text>
<text x="994.5" y="882.5" font-size="20.0" textLength="69.5" lengthAdjust="spacing">22615A</text>
<text x="997.8" y="899.0" font-size="18.0" textLength="56.8" lengthAdjust="spacing">(NO. 2)</text>
<text x="1034.0" y="919.0" font-size="20.0" textLength="69.4" lengthAdjust="spacing">22615A</text>
<text x="1039.6" y="934.5" font-size="18.0" textLength="57.8" lengthAdjust="spacing">(NO. 1)</text>
<text x="1063.3" y="956.0" font-size="20.0" textLength="69.2" lengthAdjust="spacing">22612D</text>
<text x="873.0" y="1024.0" font-size="17.5" textLength="105.8" lengthAdjust="spacing">22193-64750</text>
<text x="873.0" y="1042.0" font-size="17.5" textLength="105.8" lengthAdjust="spacing">22193-17020</text>
<text x="1016.5" y="1071.0" font-size="20.0" textLength="57.5" lengthAdjust="spacing">22658</text>
<text x="1013.9" y="1090.0" font-size="18.0" textLength="57.8" lengthAdjust="spacing">(NO. 2)</text>
<text x="1084.0" y="1090.0" font-size="20.0" textLength="69.0" lengthAdjust="spacing">22612C</text>
<text x="1206.3" y="1025.0" font-size="17.5" textLength="131.2" lengthAdjust="spacing">22395-56351 (2)</text>
<text x="1197.0" y="1057.5" font-size="17.5" textLength="107.0" lengthAdjust="spacing">90099-05225</text>
<text x="1325.0" y="998.5" font-size="17.5" textLength="106.0" lengthAdjust="spacing">22395-58200</text>
<text x="1393.0" y="902.0" font-size="20.0" textLength="58.0" lengthAdjust="spacing">22790</text>
<text x="1113.8" y="847.0" font-size="20.0" textLength="69.2" lengthAdjust="spacing">22790A</text>
<text x="1169.0" y="799.5" font-size="17.5" textLength="130.8" lengthAdjust="spacing">22395-56352 (2)</text>
<text x="1465.0" y="772.0" font-size="20.0" textLength="69.0" lengthAdjust="spacing">22178B</text>
<text x="1434.4" y="868.5" font-size="17.5" textLength="131.2" lengthAdjust="spacing">22395-56350 (2)</text>
<text x="1481.8" y="1080.5" font-size="20.0" textLength="68.8" lengthAdjust="spacing">220499</text>
<text x="965.8" y="34.0" font-size="20.0" textLength="69.5" lengthAdjust="spacing">22505A</text>
<text x="1066.0" y="65.0" font-size="20.0" textLength="57.0" lengthAdjust="spacing">22169</text>
<text x="993.6" y="106.5" font-size="20.0" textLength="69.4" lengthAdjust="spacing">22511A</text>
<text x="1116.5" y="95.0" font-size="20.0" textLength="69.1" lengthAdjust="spacing">22146D</text>
<text x="1180.6" y="63.0" font-size="20.0" textLength="69.4" lengthAdjust="spacing">22170A</text>
<text x="1249.0" y="42.0" font-size="20.0" textLength="69.0" lengthAdjust="spacing">22108A</text>
<text x="1327.6" y="34.0" font-size="20.0" textLength="69.4" lengthAdjust="spacing">22632A</text>
<text x="1201.6" y="185.0" font-size="20.0" textLength="57.4" lengthAdjust="spacing">22170</text>
<text x="1126.5" y="219.5" font-size="20.0" textLength="57.5" lengthAdjust="spacing">22169</text>
<text x="1003.6" y="247.0" font-size="20.0" textLength="69.4" lengthAdjust="spacing">22161A</text>
<text x="1084.7" y="255.5" font-size="20.0" textLength="70.3" lengthAdjust="spacing">22341C</text>
<text x="943.5" y="281.5" font-size="20.0" textLength="57.5" lengthAdjust="spacing">22505</text>
<text x="1204.6" y="248.0" font-size="20.0" textLength="55.4" lengthAdjust="spacing">22751</text>
<text x="1277.5" y="229.0" font-size="20.0" textLength="69.1" lengthAdjust="spacing">22655A</text>
<text x="1058.7" y="409.5" font-size="20.0" textLength="69.3" lengthAdjust="spacing">22390A</text>
<text x="1164.0" y="418.0" font-size="20.0" textLength="57.7" lengthAdjust="spacing">22193</text>
<text x="1485.0" y="73.0" font-size="20.0" textLength="57.0" lengthAdjust="spacing">22130</text>
<text x="1356.0" y="137.5" font-size="20.0" textLength="56.7" lengthAdjust="spacing">22659</text>
<text x="1428.4" y="156.0" font-size="20.0" textLength="56.6" lengthAdjust="spacing">22656</text>
<text x="1428.4" y="174.5" font-size="18.0" textLength="57.1" lengthAdjust="spacing">(NO. 1)</text>
<text x="1365.0" y="184.5" font-size="20.0" textLength="57.0" lengthAdjust="spacing">22658</text>
<text x="1365.0" y="203.0" font-size="18.0" textLength="57.0" lengthAdjust="spacing">(NO. 1)</text>
<text x="1361.0" y="355.0" font-size="17.5" textLength="106.0" lengthAdjust="spacing">22172-6A330</text>
<text x="1301.8" y="384.0" font-size="17.5" textLength="105.9" lengthAdjust="spacing">22172-64230</text>
<text x="1427.7" y="394.5" font-size="17.5" textLength="131.0" lengthAdjust="spacing">22395-58200 (4)</text>
<text x="1161.0" y="434.5" font-size="18.0" textLength="58.0" lengthAdjust="spacing">(NO. 2)</text>
<text x="1159.9" y="457.5" font-size="20.0" textLength="57.4" lengthAdjust="spacing">22689</text>
<text x="1164.5" y="494.5" font-size="20.0" textLength="57.2" lengthAdjust="spacing">22602</text>
<text x="1291.8" y="523.0" font-size="20.0" textLength="69.2" lengthAdjust="spacing">22176A</text>
<text x="1365.0" y="503.5" font-size="20.0" textLength="57.0" lengthAdjust="spacing">22176</text>
<text x="1459.5" y="473.0" font-size="20.0" textLength="56.7" lengthAdjust="spacing">22149</text>
<text x="1456.0" y="490.5" font-size="18.0" textLength="58.0" lengthAdjust="spacing">(NO. 2)</text>
<text x="1509.0" y="540.0" font-size="20.0" textLength="69.0" lengthAdjust="spacing">22128A</text>
<text x="1457.8" y="629.5" font-size="20.0" textLength="54.4" lengthAdjust="spacing">22131</text>
<text x="1105.4" y="572.0" font-size="20.0" textLength="56.6" lengthAdjust="spacing">22182</text>
<text x="1126.5" y="651.0" font-size="20.0" textLength="57.5" lengthAdjust="spacing">22192</text>
<text x="1086.0" y="674.0" font-size="20.0" textLength="57.0" lengthAdjust="spacing">22143</text>
<text x="1178.0" y="683.5" font-size="20.0" textLength="68.7" lengthAdjust="spacing">22101B</text>
<text x="1288.5" y="678.0" font-size="20.0" textLength="57.5" lengthAdjust="spacing">22149</text>
<text x="1288.5" y="696.0" font-size="18.0" textLength="57.5" lengthAdjust="spacing">(NO. 1)</text>
<text x="1330.0" y="654.0" font-size="20.0" textLength="57.7" lengthAdjust="spacing">22104</text>
<text x="1367.0" y="683.0" font-size="20.0" textLength="57.4" lengthAdjust="spacing">22148</text>
<text x="1048.7" y="540.5" font-size="20.0" textLength="69.3" lengthAdjust="spacing">22314A</text>
<text x="1012.6" y="502.0" font-size="20.0" textLength="69.4" lengthAdjust="spacing">22350A</text>
<text x="1028.6" y="594.5" font-size="20.0" textLength="57.8" lengthAdjust="spacing">22144</text>
<text x="1034.6" y="744.0" font-size="20.0" textLength="57.4" lengthAdjust="spacing">22145</text>
</g>
</svg></div>
<div id="foot"><svg width="1592" height="159" viewBox="0 0 1592 159"><g font-size="63.5" style="font-weight:normal" fill="#fff"><text class="t" style="fill:#fff" x="304" y="107" textLength="229" lengthAdjust="spacingAndGlyphs">TOYOTA</text><text class="t" style="fill:#fff" x="550.5" y="107" textLength="16" lengthAdjust="spacingAndGlyphs">-</text><text class="t" style="fill:#fff" x="585" y="107" textLength="354" lengthAdjust="spacingAndGlyphs">221406D480</text><text class="t" style="fill:#fff" x="1022" y="107" textLength="38" lengthAdjust="spacingAndGlyphs">N</text><text class="t" style="fill:#fff" x="1082.5" y="107" textLength="16" lengthAdjust="spacingAndGlyphs">-</text><text class="t" style="fill:#fff" x="1115.6" y="107" textLength="171" lengthAdjust="spacingAndGlyphs">22140</text></g></svg></div>
</body></html>
